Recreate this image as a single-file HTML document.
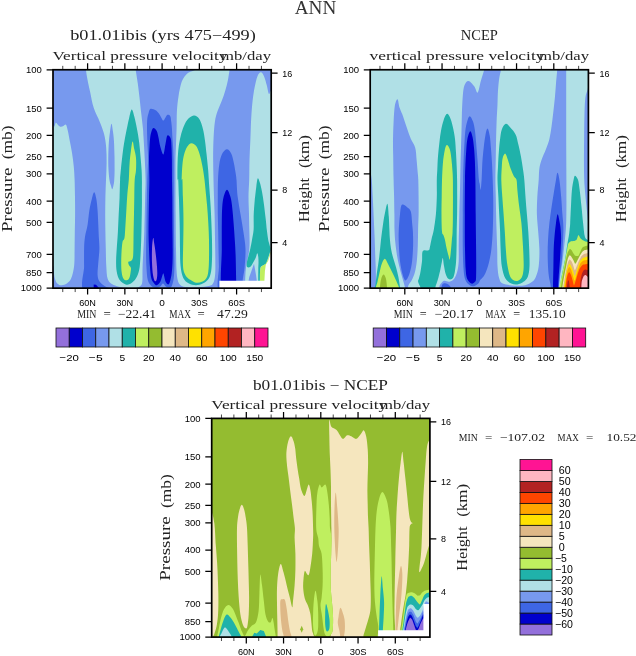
<!DOCTYPE html>
<html><head><meta charset="utf-8"><title>ANN</title>
<style>html,body{margin:0;padding:0;background:#fff;}svg{display:block;}text{white-space:pre;}</style>
</head><body>
<svg width="636" height="656" viewBox="0 0 636 656">
<rect width="636" height="656" fill="#fff"/>
<clipPath id="c1"><rect x="0" y="0" width="218.2" height="218.4"/></clipPath>
<g clip-path="url(#c1)" transform="translate(53 69.75)">
<rect x="-1" y="-1" width="221" height="221" fill="#7799EE"/>
<path d="M-3.0 62.0C-2.3 39.8 0.2 58.5 1.2 57.0C2.2 55.5 2.1 53.3 2.8 53.0C3.5 52.7 4.4 54.7 5.2 55.4C6.0 56.1 6.9 57.0 7.8 57.1C8.7 57.2 9.5 56.6 10.4 56.2C11.3 55.9 12.3 54.3 13.0 55.0C13.7 55.7 14.1 58.2 14.7 60.6C15.3 63.0 15.7 65.5 16.4 69.2C17.1 72.9 18.3 78.4 19.0 83.0C19.7 87.6 20.4 92.4 20.8 96.9C21.2 101.4 21.4 104.9 21.6 110.0C21.8 115.1 21.9 121.5 22.0 127.3C22.1 133.1 22.1 138.8 22.1 144.6C22.1 150.4 21.9 156.1 21.8 161.9C21.7 167.7 21.7 173.4 21.6 179.2C21.5 185.0 21.7 191.6 21.1 196.5C20.5 201.4 19.4 205.7 18.2 208.6C17.0 211.5 15.4 212.7 13.8 213.8C12.2 215.0 10.3 215.5 8.7 215.5C7.1 215.5 5.5 215.2 4.3 213.8C3.1 212.4 2.0 209.8 1.4 206.9C0.8 204.0 1.2 199.3 0.5 196.5C-0.2 193.7 -2.4 212.4 -3.0 190.0C-3.6 167.6 -3.7 84.2 -3.0 62.0Z" fill="#B0E0E6"/>
<path d="M32.5 -4.0C24.2 -3.3 32.5 -2.4 32.9 0.0C33.2 2.4 33.9 6.7 34.6 10.4C35.3 14.2 36.2 17.9 37.2 22.5C38.2 27.1 39.1 33.1 40.7 38.0C42.3 42.9 45.0 47.6 46.7 51.9C48.4 56.2 49.9 59.7 51.0 64.0C52.1 68.3 52.8 73.0 53.2 77.9C53.6 82.8 53.6 88.1 53.6 93.4C53.6 98.8 53.2 104.3 53.0 110.0C52.8 115.7 52.5 121.5 52.4 127.3C52.3 133.1 52.2 138.8 52.2 144.6C52.2 150.4 52.3 156.1 52.4 161.9C52.5 167.7 52.6 173.4 52.8 179.2C52.9 185.0 53.0 191.6 53.3 196.5C53.6 201.4 53.7 205.7 54.5 208.6C55.3 211.5 56.4 212.5 58.0 213.8C59.6 215.1 61.5 215.7 64.0 216.4C66.5 217.1 69.8 217.8 72.7 218.1C75.6 218.4 78.9 218.7 81.3 218.4C83.7 218.1 85.7 217.6 87.0 216.5C88.3 215.4 88.9 215.3 89.3 212.0C89.7 208.7 89.3 204.8 89.6 196.5C89.9 188.2 90.9 173.5 91.3 161.9C91.7 150.3 92.0 135.7 92.2 127.0C92.4 118.3 92.7 116.2 92.6 110.0C92.5 103.8 92.1 97.2 91.8 90.0C91.5 82.8 90.8 72.3 90.5 67.0C90.2 61.7 90.3 62.2 89.9 58.3C89.5 54.3 88.8 48.4 88.2 43.3C87.6 38.2 87.1 32.6 86.5 27.7C85.9 22.8 85.4 18.4 84.8 13.8C84.2 9.2 83.1 3.0 82.7 0.0C82.3 -3.0 90.8 -3.3 82.4 -4.0C74.0 -4.7 40.8 -4.7 32.5 -4.0Z" fill="#B0E0E6"/>
<path d="M147.0 -4.0C141.1 -3.3 143.2 -0.6 141.5 0.4C139.8 1.4 138.2 1.5 136.8 2.2C135.4 2.9 134.4 3.6 133.3 4.8C132.2 6.0 130.9 7.5 130.0 9.2C129.1 10.9 128.5 12.2 127.8 15.0C127.1 17.8 126.2 21.6 125.6 26.0C124.9 30.4 124.2 36.1 123.9 41.5C123.6 46.9 123.8 52.3 123.6 58.3C123.4 64.2 123.1 71.9 122.9 77.2C122.7 82.5 122.6 84.5 122.5 90.0C122.4 95.5 122.5 100.9 122.5 110.0C122.5 119.1 122.5 133.1 122.6 144.6C122.7 156.1 122.8 170.0 123.0 179.2C123.2 188.4 123.2 194.8 123.5 200.0C123.8 205.2 124.1 207.8 124.7 210.3C125.3 212.8 126.0 214.0 127.3 215.2C128.6 216.4 129.6 216.9 132.5 217.3C135.4 217.7 140.6 217.8 144.6 217.6C148.6 217.4 154.1 216.7 156.7 216.0C159.3 215.3 159.3 214.8 160.2 213.3C161.1 211.8 161.5 209.7 161.9 206.9C162.3 204.1 162.4 201.1 162.4 196.5C162.4 191.9 162.3 185.0 162.2 179.2C162.1 173.4 162.0 167.7 161.9 161.9C161.8 156.1 161.8 150.4 161.6 144.6C161.4 138.8 161.2 133.1 161.0 127.3C160.8 121.5 160.6 115.7 160.5 110.0C160.4 104.3 160.2 98.5 160.2 93.4C160.1 88.3 160.1 84.2 160.2 79.6C160.3 75.0 160.4 70.3 160.7 65.7C161.0 61.1 161.3 55.9 161.9 51.9C162.5 47.9 163.3 45.0 164.5 41.5C165.7 38.0 167.5 34.6 168.8 31.1C170.1 27.7 171.3 24.2 172.3 20.8C173.3 17.4 174.2 13.9 174.9 10.4C175.6 6.9 176.2 2.4 176.6 0.0C176.9 -2.4 181.9 -3.3 177.0 -4.0C172.1 -4.7 152.9 -4.7 147.0 -4.0Z" fill="#B0E0E6"/>
<path d="M207.8 2.6C206.7 2.6 205.3 4.5 204.3 6.9C203.3 9.4 202.5 13.3 201.7 17.3C200.9 21.3 200.2 25.9 199.6 31.1C199.0 36.3 198.6 42.0 198.2 48.4C197.8 54.8 197.7 62.3 197.4 69.2C197.1 76.1 196.7 83.2 196.5 90.0C196.3 96.8 196.4 103.8 196.2 110.0C196.0 116.2 195.5 121.5 195.5 127.3C195.5 133.1 195.9 139.6 196.0 145.0C196.1 150.4 196.2 154.3 196.3 160.0C196.4 165.7 196.9 172.6 196.3 178.9C195.8 185.2 193.7 192.2 193.0 197.7C192.3 203.2 192.3 207.9 192.1 212.0C191.9 216.1 187.0 220.3 192.0 222.0C197.0 223.7 217.0 255.5 222.0 222.0C227.0 188.5 222.7 54.5 222.0 21.0C221.3 -12.5 219.0 20.5 218.0 21.0C217.0 21.5 216.6 25.1 215.9 24.2C215.2 23.3 214.6 18.5 213.8 15.6C213.0 12.7 212.2 9.1 211.2 6.9C210.2 4.7 209.0 2.6 207.8 2.6Z" fill="#B0E0E6"/>
<path d="M58.5 54.0C58.0 54.0 57.4 59.0 57.0 62.0C56.6 65.0 56.2 67.9 55.9 72.0C55.6 76.1 55.4 81.8 55.3 86.5C55.2 91.2 55.3 95.9 55.5 100.0C55.7 104.1 56.2 108.3 56.6 111.0C57.0 113.7 57.6 114.6 58.0 116.0C58.4 117.4 58.8 119.5 59.2 119.5C59.6 119.5 60.1 117.4 60.4 116.0C60.7 114.6 61.0 113.7 61.2 111.0C61.4 108.3 61.6 104.1 61.6 100.0C61.6 95.9 61.6 91.2 61.5 86.5C61.4 81.8 61.2 76.1 61.0 72.0C60.8 67.9 60.4 65.0 60.0 62.0C59.6 59.0 59.0 54.0 58.5 54.0Z" fill="#7799EE"/>
<path d="M201.0 194.0L198.7 200.6L196.3 207.2L195.4 212.0L203.9 212.0L203.0 205.3L202.0 199.6Z" fill="#7799EE"/>
<path d="M78.7 39.8C77.8 40.1 77.0 44.9 76.1 48.4C75.2 51.9 74.4 56.3 73.5 60.6C72.6 64.9 71.7 69.5 70.9 74.4C70.1 79.3 69.5 85.1 68.9 90.0C68.3 94.9 67.8 100.5 67.5 103.8C67.2 107.1 67.2 106.1 67.1 110.0C66.9 113.9 66.8 121.5 66.6 127.3C66.4 133.1 66.0 138.8 65.7 144.6C65.4 150.4 65.2 156.1 64.9 161.9C64.6 167.7 64.0 174.3 63.7 179.2C63.4 184.1 63.1 187.6 63.1 191.3C63.1 195.1 63.1 198.5 63.7 201.7C64.3 204.9 65.1 208.1 66.6 210.3C68.1 212.5 70.8 214.1 72.7 214.7C74.6 215.3 76.2 214.8 77.9 213.8C79.6 212.8 81.6 210.9 83.0 208.6C84.4 206.3 85.5 203.4 86.2 200.0C86.9 196.6 87.1 192.8 87.4 187.9C87.7 183.0 88.0 176.4 88.2 170.6C88.4 164.8 88.5 159.1 88.6 153.3C88.7 147.5 88.9 141.8 88.9 136.0C89.0 130.2 88.9 123.0 88.9 118.7C88.9 114.4 89.0 113.1 88.9 110.0C88.9 106.9 88.8 104.2 88.6 100.3C88.4 96.4 87.9 91.1 87.5 86.5C87.1 81.9 86.8 77.3 86.2 72.7C85.6 68.1 84.7 63.1 83.9 58.8C83.1 54.5 82.2 49.9 81.3 46.7C80.4 43.5 79.6 39.5 78.7 39.8Z" fill="#20B2AA"/>
<path d="M140.8 45.8C138.8 45.9 136.0 48.0 134.2 50.2C132.4 52.4 131.1 55.6 129.9 58.8C128.7 62.0 127.8 65.5 127.0 69.2C126.2 73.0 125.6 77.0 125.2 81.3C124.8 85.6 124.6 90.4 124.5 95.2C124.4 100.0 124.4 107.5 124.5 110.0C124.6 112.5 125.0 107.1 125.2 110.0C125.4 112.9 125.7 121.5 125.9 127.3C126.1 133.1 126.2 138.8 126.4 144.6C126.6 150.4 126.7 156.1 126.8 161.9C126.9 167.7 126.9 174.0 127.0 179.2C127.1 184.4 127.0 189.0 127.3 193.0C127.6 197.0 128.0 200.5 128.7 203.4C129.4 206.3 130.4 208.6 131.6 210.3C132.8 212.0 134.1 212.9 136.0 213.8C137.9 214.7 140.6 215.5 142.9 215.5C145.2 215.5 147.7 214.8 149.8 213.8C151.9 212.8 153.9 211.5 155.3 209.5C156.7 207.5 157.5 205.0 158.1 201.7C158.7 198.4 158.8 194.8 159.0 189.6C159.2 184.4 159.1 176.6 159.0 170.6C158.9 164.6 158.6 159.1 158.4 153.3C158.2 147.5 157.9 141.8 157.6 136.0C157.3 130.2 156.7 123.0 156.4 118.7C156.1 114.4 156.0 113.3 155.8 110.0C155.6 106.7 155.4 102.8 155.0 98.6C154.6 94.4 154.1 89.4 153.6 84.8C153.1 80.2 152.6 75.2 152.0 70.9C151.4 66.6 150.8 62.4 149.8 58.8C148.9 55.2 147.8 51.5 146.3 49.3C144.8 47.1 142.8 45.6 140.8 45.8Z" fill="#20B2AA"/>
<path d="M204.8 108.5C204.2 109.2 203.8 113.1 203.3 117.0C202.8 120.9 202.0 127.3 201.6 132.0C201.2 136.7 200.9 140.3 200.7 145.0C200.5 149.7 200.9 155.9 200.6 160.0C200.3 164.1 199.6 166.2 199.1 169.4C198.6 172.6 197.9 176.1 197.3 178.9C196.7 181.7 196.0 184.1 195.4 186.4C194.8 188.8 194.0 191.2 193.8 193.0C193.6 194.8 193.4 196.7 194.1 197.3C194.8 197.9 196.6 197.7 197.7 196.8C198.8 195.9 199.7 193.7 200.6 192.1C201.5 190.5 202.3 188.8 202.9 187.4C203.5 186.0 203.9 183.6 204.3 183.6C204.7 183.6 205.1 185.8 205.3 187.4C205.5 189.0 205.5 191.0 205.5 193.0C205.5 195.0 205.3 196.4 205.3 199.6C205.3 202.8 205.1 209.9 205.3 212.0C205.5 214.1 206.4 213.6 206.7 212.0C207.0 210.4 206.8 204.9 207.0 202.5C207.2 200.1 207.3 198.7 207.6 197.7C207.9 196.7 208.1 196.9 209.0 196.3C209.9 195.7 211.9 195.2 212.8 194.0C213.8 192.8 214.1 190.9 214.7 189.2C215.3 187.5 216.1 185.2 216.6 183.6C217.1 182.0 217.5 180.9 217.5 179.5C217.5 178.1 216.9 176.7 216.5 175.0C216.1 173.3 215.5 171.9 215.1 169.4C214.7 166.9 214.2 163.2 213.8 160.0C213.4 156.8 213.3 154.2 212.8 150.0C212.3 145.8 211.6 139.7 211.0 135.0C210.4 130.3 209.7 125.7 209.0 122.0C208.3 118.3 207.6 115.2 206.9 113.0C206.2 110.8 205.4 107.8 204.8 108.5Z" fill="#20B2AA"/>
<path d="M79.6 71.8C79.0 72.1 78.4 77.7 77.9 81.3C77.4 84.9 76.9 88.6 76.6 93.4C76.2 98.2 76.2 104.9 75.8 110.0C75.4 115.1 74.8 119.2 74.4 123.8C74.0 128.4 73.8 133.1 73.5 137.7C73.2 142.3 73.0 146.9 72.7 151.5C72.4 156.1 72.1 162.4 71.8 165.4C71.5 168.4 71.4 168.3 71.0 169.5C70.6 170.7 69.9 170.1 69.5 172.3C69.1 174.5 68.7 179.2 68.5 182.7C68.3 186.1 68.2 189.6 68.2 193.0C68.2 196.4 68.3 200.7 68.8 203.4C69.2 206.2 70.0 208.3 70.9 209.5C71.8 210.7 73.5 210.6 74.4 210.3C75.4 210.0 76.1 208.8 76.6 207.5C77.1 206.2 77.4 204.1 77.6 202.5C77.8 200.9 78.2 199.3 77.9 198.2C77.7 197.0 76.5 196.6 76.1 195.6C75.7 194.6 75.0 192.9 75.3 192.2C75.6 191.5 77.1 192.0 77.9 191.3C78.7 190.6 79.5 189.9 79.9 187.9C80.3 185.9 80.3 183.5 80.4 179.2C80.5 174.9 80.5 167.7 80.6 161.9C80.7 156.1 80.9 150.4 81.0 144.6C81.1 138.8 81.2 133.1 81.3 127.3C81.4 121.5 81.4 114.5 81.7 110.0C82.0 105.5 82.8 103.9 83.0 100.3C83.2 96.7 83.3 91.7 83.0 88.2C82.7 84.8 81.9 82.3 81.3 79.6C80.7 76.9 80.2 71.5 79.6 71.8Z" fill="#BFEF5F"/>
<path d="M138.5 73.5C136.9 73.5 135.4 75.1 134.2 77.0C133.0 78.9 131.9 81.8 131.1 84.8C130.3 87.8 129.8 91.0 129.4 95.2C129.0 99.4 128.7 107.5 128.7 110.0C128.7 112.5 129.2 107.1 129.4 110.0C129.6 112.9 129.7 121.5 129.9 127.3C130.1 133.1 130.3 138.8 130.4 144.6C130.5 150.4 130.5 156.1 130.4 161.9C130.3 167.7 130.2 174.0 130.1 179.2C130.0 184.4 129.8 189.2 129.9 193.0C130.0 196.8 130.1 199.2 130.8 201.7C131.5 204.2 133.0 206.4 134.2 207.8C135.3 209.2 136.2 209.5 137.7 210.3C139.1 211.2 141.0 212.6 142.9 212.9C144.8 213.2 147.2 212.8 148.9 212.1C150.6 211.4 152.2 210.3 153.3 208.6C154.4 206.9 154.9 204.9 155.3 201.7C155.8 198.5 155.9 194.8 156.0 189.6C156.1 184.4 156.1 176.6 156.0 170.6C155.9 164.6 155.6 159.1 155.3 153.3C155.0 147.5 154.6 141.8 154.1 136.0C153.6 130.2 152.8 123.0 152.4 118.7C152.0 114.4 151.9 113.3 151.5 110.0C151.1 106.7 150.5 102.5 149.8 98.6C149.1 94.7 148.2 90.1 147.2 86.5C146.2 82.9 145.1 79.2 143.7 77.0C142.2 74.8 140.1 73.5 138.5 73.5Z" fill="#BFEF5F"/>
<path d="M209.0 196.3L212.8 194.0L215.2 189.2L216.6 184.5L218.0 182.0L218.0 212.0L207.0 212.0L207.0 202.5L207.6 197.7Z" fill="#BFEF5F"/>
<path d="M41.2 122.5C40.5 122.5 39.7 125.9 38.9 129.0C38.1 132.1 37.0 136.8 36.3 141.1C35.6 145.4 35.3 150.7 34.6 155.0C33.9 159.3 32.6 163.1 32.0 167.1C31.4 171.1 31.2 174.3 31.1 179.2C31.0 184.1 31.1 189.4 31.1 196.5C31.1 203.6 26.3 217.8 31.1 222.0C35.9 226.2 55.7 222.6 60.0 222.0C64.3 221.4 58.5 219.6 57.1 218.7C55.8 217.8 53.6 217.5 51.9 216.4C50.2 215.3 47.9 214.0 46.7 212.1C45.5 210.2 44.8 208.4 44.6 205.2C44.4 202.0 45.0 197.3 45.3 193.0C45.6 188.7 46.3 183.5 46.4 179.2C46.5 174.9 46.0 171.1 45.8 167.1C45.6 163.1 45.5 159.3 45.3 155.0C45.1 150.7 44.9 145.4 44.6 141.1C44.3 136.8 43.9 132.1 43.3 129.0C42.7 125.9 41.9 122.5 41.2 122.5Z" fill="#3E66E4"/>
<path d="M97.5 39.0C96.3 39.5 96.1 41.6 95.6 43.2C95.1 44.9 94.6 46.4 94.3 48.9C94.0 51.4 94.0 55.2 94.0 58.3C94.0 61.4 94.1 64.5 94.2 67.7C94.3 70.9 94.4 73.5 94.6 77.2C94.8 80.9 95.1 84.5 95.1 90.0C95.0 95.5 94.5 103.8 94.3 110.0C94.1 116.2 94.0 121.5 93.9 127.3C93.8 133.1 93.7 138.8 93.6 144.6C93.5 150.4 93.5 156.1 93.4 161.9C93.3 167.7 93.1 173.4 93.1 179.2C93.1 185.0 93.1 191.3 93.4 196.5C93.7 201.7 93.9 207.0 94.8 210.3C95.7 213.6 97.1 215.1 98.6 216.4C100.1 217.7 102.3 218.1 103.8 218.1C105.3 218.1 106.5 217.2 107.5 216.5C108.5 215.8 109.2 213.8 110.0 213.8C110.8 213.8 111.6 215.8 112.5 216.5C113.4 217.2 114.2 218.1 115.2 218.1C116.2 218.1 117.8 218.0 118.7 216.4C119.6 214.8 120.2 211.9 120.7 208.6C121.2 205.3 121.3 201.4 121.4 196.5C121.5 191.6 121.3 187.8 121.2 179.2C121.1 170.5 121.0 156.1 120.9 144.6C120.8 133.1 120.8 119.1 120.7 110.0C120.7 100.9 120.7 95.5 120.6 90.0C120.5 84.5 120.3 80.9 120.1 77.2C119.9 73.5 119.6 70.9 119.4 67.7C119.2 64.5 119.1 61.0 118.9 58.3C118.7 55.6 118.5 53.7 118.2 51.7C117.9 49.7 117.9 47.6 117.3 46.5C116.7 45.4 115.2 44.9 114.4 45.1C113.6 45.4 113.1 47.0 112.4 48.0C111.7 49.0 111.1 50.8 110.4 50.8C109.7 50.8 109.1 49.2 108.3 47.9C107.5 46.6 106.5 44.5 105.5 43.2C104.5 42.0 103.9 41.1 102.6 40.4C101.3 39.7 98.7 38.5 97.5 39.0Z" fill="#3E66E4"/>
<path d="M173.7 79.6C172.1 79.8 170.1 82.2 168.8 84.8C167.6 87.4 166.8 91.0 166.2 95.2C165.6 99.4 165.2 104.7 165.0 110.0C164.8 115.3 164.8 121.5 164.8 127.3C164.8 133.1 164.7 138.8 164.8 144.6C164.9 150.4 165.1 156.1 165.2 161.9C165.3 167.7 165.4 173.4 165.5 179.2C165.6 185.0 165.8 189.4 165.9 196.5C166.1 203.6 162.5 217.8 166.4 222.0C170.3 226.2 185.6 223.8 189.5 222.0C193.4 220.2 189.6 213.5 189.7 211.0C189.8 208.5 189.9 209.2 190.2 207.0C190.5 204.8 191.2 202.4 191.6 197.7C192.0 193.0 192.7 184.9 192.5 178.9C192.3 172.9 191.2 167.6 190.4 161.9C189.6 156.2 188.4 150.4 187.5 144.6C186.6 138.8 185.4 133.1 184.7 127.3C184.0 121.5 183.8 113.9 183.5 110.0C183.2 106.1 183.1 106.6 182.7 103.8C182.3 101.0 181.6 96.7 180.9 93.4C180.2 90.1 179.5 86.2 178.3 83.9C177.1 81.6 175.3 79.4 173.7 79.6Z" fill="#3E66E4"/>
<path d="M100.3 58.3C99.4 58.5 98.9 60.5 98.4 62.1C97.9 63.7 97.5 65.2 97.2 67.7C96.9 70.2 96.7 73.5 96.5 77.2C96.3 80.9 96.0 84.5 96.0 90.0C96.0 95.5 96.4 103.8 96.4 110.0C96.4 116.2 96.1 121.5 96.0 127.3C95.9 133.1 95.8 138.8 95.7 144.6C95.6 150.4 95.5 156.1 95.5 161.9C95.5 167.7 95.8 173.4 96.0 179.2C96.2 185.0 96.5 191.6 96.9 196.5C97.3 201.4 97.6 205.7 98.3 208.6C99.0 211.5 100.3 212.7 101.2 213.8C102.1 215.0 102.8 215.8 103.8 215.5C104.8 215.2 106.3 214.0 107.3 212.1C108.3 210.2 109.4 205.2 110.0 204.0C110.6 202.8 110.5 203.8 110.9 205.2C111.3 206.5 111.9 210.5 112.6 212.1C113.3 213.7 114.5 214.7 115.2 214.7C115.9 214.7 116.3 214.0 116.9 212.1C117.5 210.2 118.3 206.6 118.7 203.4C119.1 200.2 119.3 197.0 119.5 193.0C119.7 189.0 119.7 184.4 119.7 179.2C119.7 174.0 119.6 170.6 119.5 161.9C119.4 153.2 119.4 135.9 119.3 127.3C119.2 118.6 119.1 116.2 119.0 110.0C118.9 103.8 119.0 95.5 118.9 90.0C118.8 84.5 118.7 80.8 118.5 77.2C118.3 73.7 118.4 70.6 117.7 68.7C117.0 66.8 115.3 64.9 114.4 65.8C113.5 66.7 113.2 71.1 112.5 74.3C111.8 77.5 111.2 84.2 110.4 84.7C109.6 85.2 108.2 80.0 107.4 77.2C106.6 74.4 106.1 70.4 105.5 67.7C104.9 65.0 104.5 62.7 103.6 61.1C102.7 59.5 101.2 58.1 100.3 58.3Z" fill="#0000CD"/>
<path d="M174.0 120.0C172.8 120.0 171.4 124.3 170.6 127.3C169.8 130.2 169.5 133.4 169.2 137.7C168.9 142.0 168.9 146.4 168.8 153.3C168.7 160.2 168.8 167.8 168.8 179.2C168.8 190.6 166.4 214.9 168.8 222.0C171.2 229.1 181.0 223.8 183.4 222.0C185.8 220.2 183.3 216.9 183.2 211.2C183.1 205.5 182.9 194.7 182.7 187.9C182.5 181.1 182.2 176.4 181.8 170.6C181.5 164.8 181.0 158.8 180.6 153.3C180.2 147.8 179.7 142.0 179.2 137.7C178.7 133.4 178.4 130.2 177.5 127.3C176.6 124.3 175.2 120.0 174.0 120.0Z" fill="#0000CD"/>
<path d="M40.7 214.7L43.0 215.0L46.7 219.0L40.7 219.0Z" fill="#0000CD"/>
<path d="M100.3 168.0C100.0 168.0 99.6 171.1 99.4 173.0C99.2 174.9 99.1 175.9 99.0 179.2C98.9 182.5 98.8 188.7 99.0 193.0C99.2 197.3 99.5 202.2 100.0 205.2C100.5 208.2 101.1 210.3 101.7 211.2C102.3 212.0 103.1 211.6 103.5 210.3C103.9 209.0 104.3 206.6 104.3 203.4C104.3 200.2 103.9 195.3 103.5 191.3C103.1 187.3 102.5 182.2 102.1 179.2C101.7 176.1 101.4 174.9 101.1 173.0C100.8 171.1 100.6 168.0 100.3 168.0Z" fill="#9370DB"/>
<path d="M166.4 210.9L211.4 210.9L211.9 201.5L212.8 194.9L215.2 191.1L217.7 183.6L219.0 182.0L219.0 219.5L166.4 219.5Z" fill="#fff"/>
</g>
<path d="M62.76 69.75v-3.9M62.76 288.15v3.9M75.18 69.75v-3.9M75.18 288.15v3.9M100.01 69.75v-3.9M100.01 288.15v3.9M112.43 69.75v-3.9M112.43 288.15v3.9M137.27 69.75v-3.9M137.27 288.15v3.9M149.68 69.75v-3.9M149.68 288.15v3.9M174.52 69.75v-3.9M174.52 288.15v3.9M186.93 69.75v-3.9M186.93 288.15v3.9M211.77 69.75v-3.9M211.77 288.15v3.9M224.19 69.75v-3.9M224.19 288.15v3.9M249.02 69.75v-3.9M249.02 288.15v3.9M261.44 69.75v-3.9M261.44 288.15v3.9" stroke="#333" stroke-width="0.9" fill="none"/>
<path d="M87.60 69.75v-6.4M87.60 288.15v6.4M124.85 69.75v-6.4M124.85 288.15v6.4M162.10 69.75v-6.4M162.10 288.15v6.4M199.35 69.75v-6.4M199.35 288.15v6.4M236.60 69.75v-6.4M236.60 288.15v6.4M53 69.75h-6.4M53 108.21h-6.4M53 135.49h-6.4M53 156.66h-6.4M53 173.95h-6.4M53 201.24h-6.4M53 222.41h-6.4M53 254.32h-6.4M53 272.74h-6.4M53 288.15h-6.4M271.2 73.20h6.4M271.2 132.70h6.4M271.2 190.10h6.4M271.2 242.70h6.4" stroke="#000" stroke-width="1.25" fill="none"/>
<rect x="53" y="69.75" width="218.2" height="218.4" fill="none" stroke="#000" stroke-width="1.7"/>
<rect x="56.00" y="328" width="13.25" height="19" fill="#9370DB" stroke="#111" stroke-width="0.8"/>
<rect x="69.25" y="328" width="13.25" height="19" fill="#0000CD" stroke="#111" stroke-width="0.8"/>
<rect x="82.50" y="328" width="13.25" height="19" fill="#3E66E4" stroke="#111" stroke-width="0.8"/>
<rect x="95.75" y="328" width="13.25" height="19" fill="#7799EE" stroke="#111" stroke-width="0.8"/>
<rect x="109.00" y="328" width="13.25" height="19" fill="#B0E0E6" stroke="#111" stroke-width="0.8"/>
<rect x="122.25" y="328" width="13.25" height="19" fill="#20B2AA" stroke="#111" stroke-width="0.8"/>
<rect x="135.50" y="328" width="13.25" height="19" fill="#BFEF5F" stroke="#111" stroke-width="0.8"/>
<rect x="148.75" y="328" width="13.25" height="19" fill="#94BC30" stroke="#111" stroke-width="0.8"/>
<rect x="162.00" y="328" width="13.25" height="19" fill="#F5E6BE" stroke="#111" stroke-width="0.8"/>
<rect x="175.25" y="328" width="13.25" height="19" fill="#DEB887" stroke="#111" stroke-width="0.8"/>
<rect x="188.50" y="328" width="13.25" height="19" fill="#FFE100" stroke="#111" stroke-width="0.8"/>
<rect x="201.75" y="328" width="13.25" height="19" fill="#FFA500" stroke="#111" stroke-width="0.8"/>
<rect x="215.00" y="328" width="13.25" height="19" fill="#FF4500" stroke="#111" stroke-width="0.8"/>
<rect x="228.25" y="328" width="13.25" height="19" fill="#B22222" stroke="#111" stroke-width="0.8"/>
<rect x="241.50" y="328" width="13.25" height="19" fill="#FFB6C1" stroke="#111" stroke-width="0.8"/>
<rect x="254.75" y="328" width="13.25" height="19" fill="#FF1493" stroke="#111" stroke-width="0.8"/>
<clipPath id="c2"><rect x="0" y="0" width="218.2" height="218.4"/></clipPath>
<g clip-path="url(#c2)" transform="translate(370.2 69.75)">
<rect x="-1" y="-1" width="221" height="221" fill="#B0E0E6"/>
<path d="M-3.0 96.0C-2.3 76.7 0.1 101.2 1.0 106.0C1.9 110.8 2.0 118.5 2.4 125.0C2.8 131.5 3.1 138.3 3.4 145.0C3.7 151.7 4.0 158.3 4.3 165.0C4.6 171.7 4.8 179.2 5.0 185.0C5.2 190.8 5.5 195.5 5.6 200.0C5.7 204.5 5.8 208.3 5.8 212.0C5.8 215.7 7.3 220.3 5.8 222.0C4.3 223.7 -1.5 243.0 -3.0 222.0C-4.5 201.0 -3.7 115.3 -3.0 96.0Z" fill="#7799EE"/>
<path d="M27.3 29.4C26.5 29.1 25.2 32.5 24.6 36.3C24.0 40.0 23.7 46.4 23.4 51.9C23.1 57.4 22.9 63.4 22.8 69.2C22.7 75.0 22.9 79.7 23.0 86.5C23.1 93.3 23.2 103.2 23.4 110.0C23.5 116.8 23.8 121.5 23.9 127.3C24.0 133.1 24.1 139.2 24.2 144.6C24.3 150.0 24.1 155.3 24.3 160.0C24.5 164.7 24.7 168.4 25.1 172.6C25.5 176.8 26.1 181.3 26.7 185.2C27.3 189.1 28.2 192.8 29.0 196.2C29.8 199.6 30.6 202.7 31.4 205.6C32.2 208.5 33.1 211.3 33.7 213.5C34.4 215.7 34.7 218.1 35.3 219.0C35.9 219.9 36.7 219.7 37.2 219.0C37.7 218.3 37.8 216.4 38.5 215.0C39.2 213.6 40.6 212.4 41.6 210.3C42.6 208.2 43.9 205.7 44.7 202.5C45.5 199.3 46.1 195.9 46.6 191.4C47.1 186.9 47.4 180.9 47.6 175.7C47.8 170.5 47.8 165.2 47.9 160.0C48.0 154.8 48.3 150.0 48.4 144.6C48.5 139.2 48.4 133.1 48.4 127.3C48.4 121.5 48.2 113.9 48.1 110.0C48.0 106.1 47.9 107.1 47.6 103.8C47.3 100.5 46.8 94.3 46.4 90.0C46.0 85.7 46.0 81.4 45.0 77.9C44.0 74.4 42.2 72.7 40.7 69.2C39.2 65.7 37.6 60.9 36.3 57.1C35.0 53.4 34.0 49.9 32.9 46.7C31.8 43.5 30.3 41.0 29.4 38.1C28.5 35.2 28.1 29.7 27.3 29.4Z" fill="#7799EE"/>
<path d="M114.3 -4.0C111.5 -3.3 114.6 -2.5 114.0 0.0C113.4 2.5 111.8 7.2 110.7 11.0C109.6 14.8 108.6 21.9 107.5 22.8C106.4 23.7 105.5 18.4 104.0 16.5C102.5 14.6 99.9 11.3 98.3 11.2C96.7 11.0 95.2 13.1 94.3 15.6C93.3 18.1 93.0 21.4 92.6 26.0C92.2 30.6 91.9 37.5 91.7 43.3C91.5 49.1 91.5 54.8 91.3 60.6C91.1 66.4 91.0 72.1 90.8 77.9C90.6 83.7 90.4 89.9 90.3 95.2C90.2 100.5 90.1 104.7 90.0 110.0C89.9 115.3 89.8 121.5 89.6 127.3C89.4 133.1 89.2 139.2 89.1 144.6C89.0 150.0 88.9 154.8 88.8 160.0C88.7 165.2 88.5 170.5 88.5 175.7C88.5 180.9 88.7 187.2 88.5 191.4C88.3 195.6 87.9 198.0 87.2 200.9C86.5 203.8 85.4 206.9 84.1 208.7C82.8 210.5 80.9 211.5 79.3 211.9C77.7 212.3 75.8 211.1 74.6 211.1C73.4 211.1 73.1 211.2 72.3 211.9C71.5 212.6 70.4 214.1 69.9 215.0C69.4 215.9 69.2 216.2 69.1 217.4C68.9 218.6 49.0 221.2 69.0 222.0C89.0 222.8 169.0 222.9 189.0 222.0C209.0 221.1 188.8 219.2 189.0 216.7C189.2 214.2 189.3 211.9 189.9 207.2C190.5 202.5 191.8 196.2 192.7 188.3C193.6 180.4 195.0 168.1 195.6 160.0C196.2 151.9 196.1 148.3 196.2 140.0C196.3 131.7 196.2 123.3 196.2 110.0C196.2 96.7 196.0 78.3 196.0 60.0C196.0 41.7 196.0 10.7 196.0 0.0C196.0 -10.7 197.5 -3.3 196.0 -4.0C194.5 -4.7 188.5 -4.7 187.0 -4.0C185.5 -3.3 187.2 -3.0 187.0 0.0C186.8 3.0 186.2 9.2 185.8 13.8C185.4 18.4 185.2 22.8 184.7 27.7C184.2 32.6 183.6 38.4 183.0 43.3C182.4 48.2 181.9 52.8 181.3 57.1C180.7 61.4 180.1 65.5 179.2 69.2C178.3 73.0 177.0 76.1 175.7 79.6C174.4 83.1 172.5 86.8 171.4 90.0C170.3 93.2 169.7 95.3 169.2 98.6C168.7 101.9 168.8 105.2 168.5 110.0C168.2 114.8 167.4 121.5 167.1 127.3C166.8 133.1 166.5 138.8 166.7 144.6C166.8 150.4 167.6 156.1 168.0 161.9C168.4 167.7 169.1 173.4 169.2 179.2C169.3 185.0 169.1 191.9 168.5 196.5C167.9 201.1 166.8 204.3 165.7 206.9C164.6 209.5 163.7 210.7 161.9 212.1C160.1 213.5 157.9 214.9 155.0 215.5C152.1 216.1 148.3 216.2 144.6 215.9C140.8 215.6 135.1 215.0 132.5 213.8C129.9 212.6 129.9 211.5 129.0 208.6C128.1 205.7 127.6 201.4 127.3 196.5C127.0 191.6 127.2 185.0 127.0 179.2C126.8 173.4 126.6 167.7 126.4 161.9C126.2 156.1 126.0 150.4 125.9 144.6C125.8 138.8 125.7 133.1 125.6 127.3C125.5 121.5 125.2 116.8 125.2 110.0C125.2 103.2 125.5 93.3 125.6 86.5C125.7 79.7 125.8 75.0 125.9 69.2C126.0 63.4 126.2 57.7 126.4 51.9C126.6 46.1 127.1 39.8 127.3 34.6C127.5 29.4 127.5 25.1 127.8 20.8C128.1 16.5 128.5 12.2 129.0 8.7C129.5 5.2 130.5 2.1 130.8 0.0C131.1 -2.1 133.6 -3.3 130.8 -4.0C128.1 -4.7 117.1 -4.7 114.3 -4.0Z" fill="#7799EE"/>
<path d="M222.0 14.0C221.4 -8.9 219.3 15.4 218.5 16.5C217.7 17.6 217.8 18.9 217.2 20.8C216.6 22.7 215.7 23.9 215.2 27.7C214.7 31.4 214.5 36.4 214.3 43.3C214.1 50.2 214.0 59.8 213.9 69.2C213.8 78.7 213.7 92.4 213.8 100.0C213.9 107.6 214.1 110.5 214.3 115.0C214.6 119.5 215.0 123.3 215.3 127.0C215.6 130.7 216.0 133.8 216.3 137.0C216.6 140.2 216.9 143.5 217.2 146.0C217.5 148.5 217.4 150.7 218.2 152.0C219.0 153.3 221.4 177.0 222.0 154.0C222.6 131.0 222.6 36.9 222.0 14.0Z" fill="#7799EE"/>
<path d="M17.3 134.2C16.7 133.2 15.9 137.9 15.2 141.1C14.5 144.3 13.6 149.3 13.0 153.3C12.4 157.3 11.9 161.3 11.4 165.0C10.9 168.7 10.6 171.8 10.2 175.7C9.8 179.6 9.4 184.1 8.9 188.3C8.4 192.5 7.6 196.7 7.0 200.9C6.4 205.1 5.8 210.8 5.4 213.5C5.0 216.2 4.8 216.0 4.6 217.4C4.4 218.8 0.2 221.2 4.5 222.0C8.8 222.8 26.3 222.8 30.5 222.0C34.7 221.2 30.2 219.9 29.8 217.4C29.4 214.9 28.9 210.5 28.2 207.2C27.5 203.9 26.8 200.8 25.9 197.7C25.0 194.5 23.9 191.4 23.0 188.3C22.1 185.2 21.4 182.1 20.8 178.9C20.2 175.8 20.0 172.6 19.7 169.4C19.4 166.2 19.4 163.7 19.2 160.0C19.0 156.3 18.9 151.3 18.6 147.0C18.3 142.7 17.9 135.2 17.3 134.2Z" fill="#20B2AA"/>
<path d="M77.0 44.1C75.8 44.2 74.5 47.5 73.5 50.2C72.5 53.0 71.6 56.9 70.9 60.6C70.2 64.3 69.7 68.4 69.2 72.7C68.7 77.0 68.2 81.9 67.8 86.5C67.4 91.1 67.3 96.4 67.1 100.3C66.9 104.2 66.7 105.5 66.6 110.0C66.5 114.5 66.8 121.5 66.6 127.3C66.4 133.1 66.2 139.2 65.7 144.6C65.2 150.0 64.3 155.9 63.6 160.0C62.9 164.1 61.9 166.5 61.3 169.4C60.6 172.3 60.2 175.4 59.7 177.3C59.2 179.2 59.7 179.9 58.5 180.6C57.3 181.2 53.7 179.4 52.6 181.2C51.5 183.0 52.2 187.8 51.8 191.4C51.4 195.0 50.7 199.6 50.2 202.5C49.7 205.4 49.1 207.1 48.7 208.7C48.3 210.3 47.6 210.4 47.9 211.9C48.1 213.4 49.7 215.7 50.2 217.4C50.7 219.1 48.5 221.2 51.0 222.0C53.5 222.8 62.6 222.8 65.0 222.0C67.4 221.2 64.8 219.3 65.2 217.4C65.6 215.5 66.7 213.1 67.5 210.3C68.3 207.6 69.2 203.8 69.9 200.9C70.6 198.0 71.0 195.1 71.5 193.0C72.0 190.9 72.2 187.8 72.6 188.3C73.0 188.8 73.3 193.6 73.8 196.2C74.3 198.8 74.7 201.9 75.4 204.0C76.1 206.1 76.9 207.8 77.8 208.7C78.7 209.6 80.0 209.8 80.9 209.5C81.8 209.2 82.7 208.6 83.3 207.2C83.9 205.8 84.4 203.5 84.8 200.9C85.2 198.3 85.6 195.6 85.9 191.4C86.2 187.2 86.3 180.9 86.4 175.7C86.5 170.5 86.4 165.2 86.5 160.0C86.6 154.8 86.8 150.0 86.9 144.6C87.0 139.2 87.0 133.1 87.0 127.3C87.0 121.5 87.0 115.1 86.9 110.0C86.8 104.9 86.7 101.4 86.5 96.9C86.3 92.4 86.1 87.6 85.8 83.0C85.5 78.4 85.3 73.2 84.8 69.2C84.3 65.2 83.7 62.1 83.0 58.8C82.3 55.5 81.4 51.8 80.4 49.3C79.4 46.8 78.2 44.0 77.0 44.1Z" fill="#20B2AA"/>
<path d="M135.6 54.0C134.1 54.3 132.5 57.2 131.6 59.7C130.7 62.2 130.4 65.6 129.9 69.2C129.4 72.8 129.0 76.7 128.7 81.3C128.3 85.9 128.0 92.1 127.8 96.9C127.6 101.7 127.2 104.9 127.3 110.0C127.4 115.1 127.9 121.5 128.2 127.3C128.5 133.1 128.7 138.8 129.0 144.6C129.3 150.4 129.7 156.1 129.9 161.9C130.1 167.7 130.1 173.4 130.4 179.2C130.7 185.0 130.8 191.6 131.6 196.5C132.4 201.4 133.5 205.7 135.1 208.6C136.7 211.5 139.1 212.8 141.1 213.8C143.1 214.8 145.2 215.0 147.2 214.7C149.2 214.4 151.6 213.4 153.3 212.1C155.0 210.8 156.6 209.5 157.6 206.9C158.6 204.3 159.1 201.1 159.3 196.5C159.5 191.9 159.2 185.0 159.0 179.2C158.8 173.4 158.5 167.7 158.1 161.9C157.7 156.1 157.2 150.4 156.7 144.6C156.2 138.8 155.7 133.1 155.3 127.3C154.9 121.5 154.5 114.5 154.1 110.0C153.7 105.5 153.5 104.2 152.9 100.3C152.3 96.4 151.5 90.8 150.7 86.5C149.9 82.2 149.0 78.0 148.1 74.4C147.2 70.8 146.8 67.6 145.5 64.9C144.2 62.2 142.0 59.8 140.3 58.0C138.7 56.2 137.1 53.7 135.6 54.0Z" fill="#20B2AA"/>
<path d="M204.8 105.9C204.1 105.9 203.9 107.6 203.4 110.0C202.9 112.4 202.1 116.1 201.7 120.4C201.3 124.7 201.1 130.5 200.8 136.0C200.5 141.5 200.2 149.3 200.0 153.3C199.8 157.3 199.7 157.7 199.4 160.0C199.2 162.3 198.9 164.7 198.5 167.0C198.1 169.3 197.8 170.4 197.2 174.0C196.6 177.6 196.1 182.8 195.1 188.3C194.1 193.8 192.2 202.5 191.3 207.2C190.5 211.9 190.2 214.2 190.0 216.7C189.8 219.2 184.5 221.1 189.8 222.0C195.1 222.9 216.6 230.6 222.0 222.0C227.4 213.4 222.6 179.2 222.0 170.6C221.4 162.0 219.7 171.2 218.5 170.6C217.3 170.0 215.6 170.0 214.7 167.1C213.8 164.2 213.5 158.5 212.9 153.3C212.3 148.1 211.8 141.5 211.2 136.0C210.6 130.5 210.1 124.7 209.5 120.4C208.9 116.1 208.6 112.4 207.8 110.0C207.0 107.6 205.5 105.9 204.8 105.9Z" fill="#20B2AA"/>
<path d="M14.6 189.1C13.7 189.2 12.6 191.6 11.7 193.8C10.8 196.0 10.1 199.5 9.4 202.5C8.7 205.5 7.9 209.4 7.3 211.9C6.7 214.4 6.0 215.7 5.7 217.4C5.4 219.1 1.6 221.2 5.5 222.0C9.4 222.8 25.1 222.8 29.0 222.0C32.9 221.2 29.0 218.7 28.7 217.4C28.4 216.1 28.1 215.9 27.4 214.2C26.7 212.5 25.5 209.7 24.3 207.2C23.1 204.7 21.6 201.7 20.4 199.3C19.2 196.9 18.2 194.7 17.2 193.0C16.2 191.3 15.5 189.0 14.6 189.1Z" fill="#BFEF5F"/>
<path d="M76.5 75.3C75.6 75.6 75.0 78.3 74.4 81.3C73.8 84.3 73.1 88.6 72.7 93.4C72.3 98.2 72.0 104.3 71.8 110.0C71.6 115.7 71.6 121.5 71.5 127.3C71.4 133.1 71.2 138.8 71.3 144.6C71.3 150.4 71.5 158.5 71.8 161.9C72.1 165.3 72.5 163.8 73.0 165.0C73.5 166.2 74.0 167.1 74.6 169.4C75.2 171.7 75.8 176.0 76.5 178.9C77.2 181.8 78.0 184.9 78.5 186.7C79.0 188.5 79.0 189.9 79.3 189.9C79.6 189.9 79.8 188.5 80.1 186.7C80.4 184.9 80.6 181.8 80.9 178.9C81.2 176.0 81.5 172.2 81.7 169.4C82.0 166.6 82.2 166.0 82.4 161.9C82.6 157.8 82.7 153.2 82.7 144.6C82.8 135.9 82.8 117.4 82.7 110.0C82.6 102.6 82.4 103.6 82.2 100.3C82.0 97.0 81.7 93.5 81.3 90.0C80.9 86.5 80.4 82.0 79.6 79.6C78.8 77.1 77.4 75.0 76.5 75.3Z" fill="#BFEF5F"/>
<path d="M135.1 83.9C134.2 83.6 133.1 86.0 132.5 88.2C131.9 90.4 131.8 93.3 131.6 96.9C131.4 100.5 131.0 104.9 131.1 110.0C131.2 115.1 131.7 121.5 132.1 127.3C132.5 133.1 133.0 138.8 133.4 144.6C133.8 150.4 134.2 156.1 134.6 161.9C135.0 167.7 135.2 174.0 135.6 179.2C136.0 184.4 136.2 188.7 136.8 193.0C137.4 197.3 138.4 202.3 139.4 205.2C140.4 208.1 141.6 209.3 142.9 210.3C144.2 211.3 145.8 211.6 147.2 211.2C148.6 210.8 150.5 209.7 151.5 207.8C152.5 205.9 153.0 203.3 153.3 200.0C153.6 196.7 153.5 192.8 153.3 187.9C153.2 183.0 152.8 176.4 152.4 170.6C152.1 164.8 151.8 159.1 151.2 153.3C150.6 147.5 149.6 141.5 148.9 136.0C148.2 130.5 147.6 124.7 147.2 120.4C146.8 116.1 146.9 112.3 146.3 110.0C145.7 107.7 144.7 108.3 143.7 106.4C142.7 104.5 141.3 101.3 140.3 98.6C139.3 95.9 138.6 92.5 137.7 90.0C136.8 87.5 136.0 84.2 135.1 83.9Z" fill="#BFEF5F"/>
<path d="M189.4 216.7C189.6 215.0 191.4 207.4 191.8 205.3C192.2 203.2 193.3 197.8 193.7 195.9C194.1 194.0 195.3 188.1 195.6 186.4C195.9 184.7 196.8 180.1 197.0 178.9C197.2 177.7 197.6 174.9 197.9 174.2C198.2 173.5 199.7 172.1 200.3 171.8C200.9 171.5 203.0 171.5 203.6 171.3C204.2 171.1 205.9 170.5 206.4 169.9C206.9 169.3 207.9 165.3 208.3 165.2C208.7 165.1 209.8 168.0 210.2 168.5C210.6 169.0 212.0 170.1 212.6 170.4C213.2 170.7 215.3 171.6 215.9 171.8C216.5 172.0 217.9 172.2 218.5 172.3C219.1 172.4 221.7 167.3 222.0 172.3C222.3 177.3 225.3 217.0 222.0 222.0C218.7 227.0 192.7 222.5 189.4 222.0C186.1 221.5 189.2 218.4 189.4 216.7Z" fill="#BFEF5F"/>
<path d="M190.9 216.7C191.1 215.0 192.3 207.4 192.7 205.3C193.1 203.2 194.3 197.6 194.6 195.9C194.9 194.2 195.8 189.6 196.1 188.3C196.4 187.0 197.2 183.6 197.5 182.7C197.8 181.8 199.0 179.6 199.4 179.4C199.8 179.2 200.8 179.9 201.2 180.3C201.6 180.7 202.7 183.0 203.1 183.6C203.5 184.2 204.5 185.8 205.0 186.0C205.5 186.2 207.8 186.4 208.3 186.0C208.8 185.6 209.8 182.5 210.2 181.7C210.6 180.9 211.6 178.4 212.1 177.9C212.6 177.4 214.3 176.7 214.9 176.5C215.5 176.3 217.8 175.7 218.5 175.6C219.2 175.5 221.7 171.0 222.0 175.6C222.3 180.2 225.1 217.4 222.0 222.0C218.9 226.6 194.0 222.5 190.9 222.0C187.8 221.5 190.7 218.4 190.9 216.7Z" fill="#94BC30"/>
<path d="M192.3 216.7C192.5 215.0 193.8 207.4 194.2 205.3C194.6 203.2 195.8 197.5 196.1 195.9C196.4 194.3 197.2 190.3 197.5 189.3C197.8 188.3 199.0 185.7 199.4 185.5C199.8 185.3 200.8 186.4 201.2 186.9C201.6 187.4 202.7 189.5 203.1 190.2C203.5 190.9 204.6 193.9 205.0 194.0C205.4 194.1 206.5 192.0 206.9 191.2C207.3 190.4 208.8 187.2 209.3 186.4C209.8 185.6 211.1 183.3 211.6 182.7C212.1 182.1 213.8 180.6 214.5 180.3C215.2 180.0 217.8 179.5 218.5 179.4C219.2 179.3 221.7 175.1 222.0 179.4C222.3 183.7 225.0 217.7 222.0 222.0C219.0 226.3 195.3 222.5 192.3 222.0C189.3 221.5 192.1 218.4 192.3 216.7Z" fill="#F5E6BE"/>
<path d="M193.2 216.7C193.4 215.1 194.6 208.2 194.9 206.3C195.2 204.4 196.2 199.2 196.5 197.8C196.8 196.4 197.6 192.9 197.9 192.1C198.2 191.3 199.1 189.8 199.4 189.7C199.7 189.6 200.8 191.0 201.2 191.6C201.6 192.2 202.8 195.0 203.1 195.9C203.4 196.8 204.4 200.5 204.7 200.6C205.0 200.7 206.0 197.7 206.4 196.8C206.8 196.0 207.9 193.0 208.3 192.1C208.7 191.2 210.2 188.2 210.7 187.4C211.2 186.7 212.7 185.0 213.5 184.6C214.3 184.2 217.7 183.2 218.5 183.1C219.3 182.9 221.7 179.2 222.0 183.1C222.3 187.0 224.9 218.1 222.0 222.0C219.1 225.9 196.1 222.5 193.2 222.0C190.3 221.5 193.0 218.3 193.2 216.7Z" fill="#DEB887"/>
<path d="M194.0 216.7C194.1 215.2 195.1 208.9 195.4 207.2C195.7 205.5 196.5 200.9 196.8 199.7C197.1 198.5 197.8 196.0 198.1 195.4C198.4 194.8 199.1 193.9 199.4 194.0C199.7 194.1 200.7 195.7 201.0 196.4C201.3 197.1 202.3 199.6 202.7 200.6C203.1 201.6 204.2 206.2 204.6 206.3C205.0 206.4 206.0 202.6 206.3 201.6C206.7 200.6 207.7 197.0 208.1 195.9C208.5 194.8 209.7 191.5 210.2 190.7C210.7 189.9 212.3 188.3 213.1 187.9C213.9 187.5 217.6 186.6 218.5 186.4C219.4 186.2 221.7 182.8 222.0 186.4C222.3 190.0 224.8 218.4 222.0 222.0C219.2 225.6 196.8 222.5 194.0 222.0C191.2 221.5 193.9 218.2 194.0 216.7Z" fill="#FFE100"/>
<path d="M194.6 216.7C194.7 215.3 195.7 209.7 195.9 208.2C196.1 206.7 196.8 202.9 197.0 202.0C197.2 201.1 197.9 199.2 198.1 198.7C198.3 198.2 199.1 197.2 199.4 197.3C199.7 197.4 200.7 199.3 201.0 200.1C201.3 200.9 202.2 204.2 202.5 205.3C202.8 206.4 204.1 210.9 204.4 211.0C204.8 211.1 205.7 207.4 206.0 206.3C206.3 205.2 207.5 200.9 207.9 199.7C208.3 198.5 209.5 194.8 210.0 194.0C210.5 193.2 211.8 191.6 212.6 191.2C213.4 190.8 217.6 189.8 218.5 189.7C219.4 189.5 221.7 186.5 222.0 189.7C222.3 192.9 224.7 218.8 222.0 222.0C219.3 225.2 197.3 222.5 194.6 222.0C191.9 221.5 194.5 218.1 194.6 216.7Z" fill="#FFA500"/>
<path d="M195.6 216.7C195.7 215.5 196.1 211.1 196.3 210.0C196.5 208.9 197.1 206.0 197.3 205.3C197.5 204.6 198.2 203.3 198.4 203.0C198.6 202.7 199.2 202.3 199.4 202.5C199.6 202.7 200.5 204.6 200.8 205.3C201.1 206.1 201.9 209.0 202.2 210.0C202.5 211.0 203.5 215.6 203.8 215.7C204.1 215.8 205.1 212.1 205.5 211.0C205.9 209.9 207.0 205.6 207.4 204.4C207.8 203.2 209.0 199.6 209.5 198.7C210.0 197.8 211.6 195.8 212.1 195.4C212.6 195.0 214.3 194.6 214.9 194.5C215.5 194.4 217.8 194.1 218.5 194.0C219.2 193.9 221.7 191.2 222.0 194.0C222.3 196.8 224.6 219.2 222.0 222.0C219.4 224.8 198.2 222.5 195.6 222.0C193.0 221.5 195.5 217.9 195.6 216.7Z" fill="#FF4500"/>
<path d="M196.8 222.0C196.4 221.1 196.7 218.2 196.8 216.7C196.9 215.2 197.1 213.9 197.3 212.9C197.5 211.9 197.7 210.7 197.9 210.5C198.1 210.3 198.4 210.5 198.7 211.5C198.9 212.5 199.3 214.9 199.4 216.7C199.5 218.4 199.9 221.1 199.5 222.0C199.1 222.9 197.2 222.9 196.8 222.0Z" fill="#B22222"/>
<path d="M209.7 216.7C209.8 215.5 210.2 211.2 210.4 210.0C210.6 208.8 211.3 205.3 211.6 204.4C211.9 203.5 213.1 201.1 213.5 200.6C213.9 200.1 214.9 199.7 215.4 199.7C215.9 199.7 217.8 200.5 218.5 200.6C219.2 200.7 221.7 198.5 222.0 200.6C222.3 202.7 223.2 219.9 222.0 222.0C220.8 224.1 210.9 222.5 209.7 222.0C208.5 221.5 209.6 217.9 209.7 216.7Z" fill="#B22222"/>
<path d="M211.2 216.7C211.2 215.6 211.4 212.4 211.6 211.5C211.8 210.6 212.8 207.8 213.1 207.2C213.4 206.6 214.5 205.4 214.9 205.3C215.3 205.2 216.4 206.0 216.8 206.3C217.2 206.6 218.0 208.0 218.5 208.2C219.0 208.4 221.7 206.8 222.0 208.2C222.3 209.6 223.1 220.6 222.0 222.0C220.9 223.4 212.3 222.5 211.2 222.0C210.1 221.5 211.2 217.8 211.2 216.7Z" fill="#FFB6C1"/>
<path d="M13.3 204.8C12.5 204.9 11.5 207.4 10.9 209.5C10.3 211.6 10.0 215.3 9.8 217.4C9.6 219.5 8.5 221.2 9.7 222.0C10.9 222.8 15.7 222.8 16.9 222.0C18.1 221.2 17.0 219.6 16.8 217.4C16.6 215.2 16.3 210.8 15.7 208.7C15.1 206.6 14.1 204.7 13.3 204.8Z" fill="#94BC30"/>
<path d="M31.7 135.1C30.5 136.2 30.3 140.1 29.8 144.6C29.3 149.1 28.7 156.7 28.5 161.9C28.3 167.1 28.5 170.8 28.7 175.7C28.9 180.6 29.2 186.7 29.8 191.4C30.4 196.1 31.4 200.8 32.2 204.0C33.0 207.2 34.0 209.2 34.5 210.3C35.0 211.4 34.8 210.9 35.3 210.6C35.8 210.3 36.5 210.0 37.2 208.7C37.9 207.3 38.9 205.4 39.7 202.5C40.5 199.6 41.4 195.9 41.9 191.4C42.4 186.9 42.8 180.6 42.9 175.7C43.0 170.8 42.9 165.6 42.7 161.9C42.5 158.2 42.2 156.6 41.9 153.3C41.6 150.0 41.5 144.6 40.7 142.0C39.9 139.4 38.7 138.8 37.2 137.7C35.7 136.5 32.9 133.9 31.7 135.1Z" fill="#3E66E4"/>
<path d="M99.5 46.4C98.5 46.4 97.6 49.5 96.9 51.9C96.2 54.3 95.6 57.1 95.2 60.6C94.8 64.1 94.6 67.8 94.3 72.7C94.0 77.6 93.6 83.8 93.4 90.0C93.2 96.2 93.0 100.9 92.9 110.0C92.8 119.1 92.6 133.1 92.6 144.6C92.5 156.1 92.5 170.0 92.6 179.2C92.7 188.4 93.0 194.8 93.4 200.0C93.8 205.2 94.2 207.7 95.2 210.3C96.2 212.9 98.1 214.5 99.5 215.5C100.9 216.5 102.4 216.7 103.8 216.4C105.2 216.1 107.1 214.8 108.1 213.8C109.1 212.8 109.4 211.2 110.0 210.3C110.6 209.4 110.8 209.8 111.7 208.6C112.6 207.4 114.0 206.0 115.2 203.4C116.4 200.8 117.7 197.0 118.7 193.0C119.7 189.0 120.6 184.4 121.2 179.2C121.8 174.0 122.2 167.7 122.5 161.9C122.8 156.1 122.9 150.4 123.0 144.6C123.1 138.8 123.1 133.1 123.0 127.3C122.9 121.5 122.7 115.7 122.5 110.0C122.3 104.3 122.1 98.8 121.8 93.4C121.5 88.1 121.1 82.5 120.7 77.9C120.3 73.3 120.1 68.9 119.5 65.7C118.9 62.5 118.0 58.8 117.3 58.8C116.6 58.8 115.8 62.5 115.2 65.7C114.6 68.9 114.0 73.3 113.5 77.9C113.0 82.5 112.4 88.1 112.1 93.4C111.8 98.8 111.7 105.6 111.4 110.0C111.1 114.4 110.8 119.3 110.5 120.0C110.2 120.7 109.8 115.7 109.5 114.0C109.2 112.3 109.1 114.0 108.7 110.0C108.3 106.0 107.8 96.2 107.3 90.0C106.8 83.8 106.3 77.6 105.9 72.7C105.5 67.8 105.2 64.1 104.7 60.6C104.2 57.1 103.8 54.3 102.9 51.9C102.0 49.5 100.5 46.4 99.5 46.4Z" fill="#3E66E4"/>
<path d="M187.3 103.0C186.7 103.0 186.4 106.5 185.8 110.0C185.2 113.5 184.2 119.2 183.5 123.8C182.8 128.4 182.0 132.8 181.3 137.7C180.6 142.6 179.8 147.8 179.2 153.3C178.6 158.8 178.1 164.8 177.8 170.6C177.5 176.4 177.4 182.4 177.5 187.9C177.6 193.4 177.9 199.1 178.3 203.4C178.7 207.7 179.5 210.7 180.1 213.8C180.7 216.9 180.6 220.6 182.0 222.0C183.4 223.4 187.4 222.9 188.5 222.0C189.6 221.1 188.4 219.2 188.6 216.7C188.8 214.2 188.9 211.9 189.4 207.2C189.9 202.5 191.2 196.2 191.8 188.3C192.4 180.4 193.1 167.3 193.2 160.0C193.3 152.7 192.6 150.0 192.2 144.6C191.8 139.2 191.5 133.1 191.0 127.3C190.5 121.5 189.8 114.0 189.2 110.0C188.6 106.0 187.9 103.0 187.3 103.0Z" fill="#3E66E4"/>
<path d="M72.3 214.5C72.8 213.6 74.0 213.4 75.0 213.5C76.0 213.6 77.6 214.1 78.5 215.0C79.4 215.9 81.6 218.3 80.5 219.0C79.4 219.7 73.4 219.8 72.0 219.0C70.6 218.2 71.8 215.4 72.3 214.5Z" fill="#3E66E4"/>
<path d="M100.0 61.4C99.1 61.7 97.9 65.9 97.2 69.2C96.5 72.5 96.3 77.0 96.0 81.3C95.7 85.6 95.4 90.4 95.2 95.2C95.0 100.0 94.9 101.8 94.8 110.0C94.7 118.2 94.6 133.1 94.6 144.6C94.6 156.1 94.6 170.0 94.8 179.2C95.0 188.4 95.1 194.9 95.5 200.0C95.9 205.1 96.2 207.2 97.2 209.5C98.2 211.8 100.0 213.4 101.2 213.8C102.5 214.2 103.9 213.2 104.7 212.1C105.5 210.9 105.7 212.4 105.9 206.9C106.1 201.4 106.0 189.6 105.9 179.2C105.8 168.8 105.6 156.1 105.5 144.6C105.4 133.1 105.3 118.8 105.2 110.0C105.1 101.2 104.9 97.0 104.7 91.7C104.5 86.4 104.2 81.9 103.8 77.9C103.4 73.9 103.0 70.2 102.4 67.5C101.8 64.8 100.9 61.1 100.0 61.4Z" fill="#0000CD"/>
<path d="M187.5 144.6C186.9 144.6 186.3 149.8 185.8 153.3C185.3 156.8 184.8 161.1 184.4 165.4C184.0 169.7 183.7 174.0 183.5 179.2C183.3 184.4 183.3 190.2 183.2 196.5C183.1 202.8 182.9 212.4 182.8 216.7C182.7 220.9 181.9 221.1 182.8 222.0C183.7 222.9 187.1 222.9 188.0 222.0C188.9 221.1 187.9 219.2 188.0 216.7C188.1 214.2 188.2 211.9 188.5 207.2C188.8 202.5 189.5 194.5 189.9 188.3C190.3 182.1 190.8 174.7 190.9 170.0C191.0 165.3 190.7 162.8 190.5 160.0C190.3 157.2 190.1 155.9 189.6 153.3C189.1 150.7 188.1 144.6 187.5 144.6Z" fill="#0000CD"/>
</g>
<path d="M379.96 69.75v-3.9M379.96 288.15v3.9M392.38 69.75v-3.9M392.38 288.15v3.9M417.21 69.75v-3.9M417.21 288.15v3.9M429.63 69.75v-3.9M429.63 288.15v3.9M454.47 69.75v-3.9M454.47 288.15v3.9M466.88 69.75v-3.9M466.88 288.15v3.9M491.72 69.75v-3.9M491.72 288.15v3.9M504.13 69.75v-3.9M504.13 288.15v3.9M528.97 69.75v-3.9M528.97 288.15v3.9M541.39 69.75v-3.9M541.39 288.15v3.9M566.22 69.75v-3.9M566.22 288.15v3.9M578.64 69.75v-3.9M578.64 288.15v3.9" stroke="#333" stroke-width="0.9" fill="none"/>
<path d="M404.80 69.75v-6.4M404.80 288.15v6.4M442.05 69.75v-6.4M442.05 288.15v6.4M479.30 69.75v-6.4M479.30 288.15v6.4M516.55 69.75v-6.4M516.55 288.15v6.4M553.80 69.75v-6.4M553.80 288.15v6.4M370.2 69.75h-6.4M370.2 108.21h-6.4M370.2 135.49h-6.4M370.2 156.66h-6.4M370.2 173.95h-6.4M370.2 201.24h-6.4M370.2 222.41h-6.4M370.2 254.32h-6.4M370.2 272.74h-6.4M370.2 288.15h-6.4M588.4 73.20h6.4M588.4 132.70h6.4M588.4 190.10h6.4M588.4 242.70h6.4" stroke="#000" stroke-width="1.25" fill="none"/>
<rect x="370.2" y="69.75" width="218.2" height="218.4" fill="none" stroke="#000" stroke-width="1.7"/>
<rect x="373.20" y="328" width="13.28" height="19" fill="#9370DB" stroke="#111" stroke-width="0.8"/>
<rect x="386.48" y="328" width="13.28" height="19" fill="#0000CD" stroke="#111" stroke-width="0.8"/>
<rect x="399.76" y="328" width="13.28" height="19" fill="#3E66E4" stroke="#111" stroke-width="0.8"/>
<rect x="413.04" y="328" width="13.28" height="19" fill="#7799EE" stroke="#111" stroke-width="0.8"/>
<rect x="426.32" y="328" width="13.28" height="19" fill="#B0E0E6" stroke="#111" stroke-width="0.8"/>
<rect x="439.61" y="328" width="13.28" height="19" fill="#20B2AA" stroke="#111" stroke-width="0.8"/>
<rect x="452.89" y="328" width="13.28" height="19" fill="#BFEF5F" stroke="#111" stroke-width="0.8"/>
<rect x="466.17" y="328" width="13.28" height="19" fill="#94BC30" stroke="#111" stroke-width="0.8"/>
<rect x="479.45" y="328" width="13.28" height="19" fill="#F5E6BE" stroke="#111" stroke-width="0.8"/>
<rect x="492.73" y="328" width="13.28" height="19" fill="#DEB887" stroke="#111" stroke-width="0.8"/>
<rect x="506.01" y="328" width="13.28" height="19" fill="#FFE100" stroke="#111" stroke-width="0.8"/>
<rect x="519.29" y="328" width="13.28" height="19" fill="#FFA500" stroke="#111" stroke-width="0.8"/>
<rect x="532.58" y="328" width="13.28" height="19" fill="#FF4500" stroke="#111" stroke-width="0.8"/>
<rect x="545.86" y="328" width="13.28" height="19" fill="#B22222" stroke="#111" stroke-width="0.8"/>
<rect x="559.14" y="328" width="13.28" height="19" fill="#FFB6C1" stroke="#111" stroke-width="0.8"/>
<rect x="572.42" y="328" width="13.28" height="19" fill="#FF1493" stroke="#111" stroke-width="0.8"/>
<clipPath id="c3"><rect x="0" y="0" width="218.2" height="218.7"/></clipPath>
<g clip-path="url(#c3)" transform="translate(211.7 418.4)">
<rect x="-1" y="-1" width="221" height="221" fill="#94BC30"/>
<path d="M-3.0 90.0C-2.4 68.9 -0.2 93.3 0.7 95.6C1.6 97.9 2.1 101.7 2.5 104.0C2.9 106.3 2.8 105.8 3.1 109.6C3.4 113.4 3.7 121.1 4.1 126.9C4.5 132.7 5.1 138.4 5.4 144.2C5.8 150.0 6.0 155.5 6.2 161.5C6.4 167.5 6.7 174.4 6.7 180.0C6.7 185.6 6.7 190.7 6.4 195.0C6.2 199.3 5.7 202.9 5.2 206.0C4.7 209.1 3.9 211.5 3.3 213.4C2.7 215.3 2.7 216.3 1.6 217.7C0.6 219.1 -2.2 243.3 -3.0 222.0C-3.8 200.7 -3.6 111.1 -3.0 90.0Z" fill="#F5E6BE"/>
<path d="M30.1 86.4C29.3 86.4 28.5 89.0 27.8 91.3C27.1 93.6 26.5 97.0 26.1 100.0C25.7 103.0 25.4 105.1 25.3 109.6C25.2 114.1 25.2 121.1 25.3 126.9C25.4 132.7 25.5 138.4 25.6 144.2C25.7 150.0 25.9 155.7 26.1 161.5C26.3 167.3 26.6 173.0 27.0 178.8C27.4 184.6 28.0 191.5 28.7 196.1C29.4 200.7 30.4 204.2 31.3 206.5C32.2 208.8 33.2 209.6 33.9 209.9C34.6 210.2 35.1 210.5 35.6 208.2C36.1 205.9 36.7 201.0 37.0 196.1C37.3 191.2 37.4 184.6 37.4 178.8C37.4 173.0 37.1 167.3 37.0 161.5C36.9 155.7 36.7 150.0 36.5 144.2C36.3 138.4 36.2 132.7 36.0 126.9C35.8 121.1 35.6 114.1 35.3 109.6C35.0 105.1 34.7 103.0 34.2 100.0C33.7 97.0 33.2 93.6 32.5 91.3C31.8 89.0 30.9 86.4 30.1 86.4Z" fill="#F5E6BE"/>
<path d="M79.2 17.8C78.2 17.9 77.0 21.1 76.3 23.8C75.5 26.5 74.9 30.7 74.7 34.2C74.5 37.7 74.8 40.6 75.1 44.6C75.4 48.6 76.2 53.8 76.8 58.4C77.4 63.0 77.9 67.7 78.5 72.3C79.1 76.9 79.7 81.5 80.3 86.1C80.9 90.7 81.5 96.1 82.0 100.0C82.5 103.9 83.0 106.3 83.2 109.6C83.4 112.9 82.8 115.3 82.9 119.6C83.0 123.9 83.6 130.1 83.7 135.3C83.8 140.5 83.8 145.8 83.7 151.0C83.6 156.2 83.3 161.6 82.9 166.8C82.5 172.1 81.7 178.8 81.3 182.5C80.9 186.2 81.0 189.3 80.5 188.8C80.0 188.3 79.1 183.0 78.2 179.3C77.3 175.6 76.0 171.0 75.0 166.8C74.0 162.6 72.9 157.8 71.9 154.2C70.9 150.6 69.9 145.2 69.0 145.5C68.1 145.8 67.0 151.7 66.4 155.8C65.8 159.9 65.5 164.9 65.3 169.9C65.1 174.9 65.2 180.3 65.3 185.6C65.3 190.8 65.5 196.0 65.6 201.4C65.7 206.8 65.9 214.3 65.9 217.9C66.0 221.5 59.9 222.2 65.9 223.0C71.9 223.8 96.0 224.1 102.0 223.0C108.0 221.9 102.0 218.1 101.7 216.3C101.5 214.5 100.8 214.4 100.5 212.4C100.2 210.4 100.0 207.4 99.7 204.5C99.4 201.6 99.2 198.0 98.6 195.1C98.0 192.2 97.1 189.7 96.2 187.2C95.3 184.7 93.9 183.0 93.1 180.1C92.3 177.2 91.7 173.2 91.5 169.9C91.3 166.6 91.5 163.4 91.8 160.5C92.1 157.6 92.5 153.4 93.1 152.6C93.6 151.8 94.4 154.8 95.1 155.4C95.8 156.1 96.4 157.5 97.0 156.5C97.6 155.5 98.0 153.0 98.6 149.5C99.2 146.0 100.0 140.3 100.5 135.3C101.0 130.3 101.2 123.9 101.4 119.6C101.6 115.3 101.5 113.4 101.4 109.6C101.3 105.8 101.2 101.0 101.0 96.5C100.8 92.0 100.4 86.7 100.0 82.7C99.6 78.7 99.3 75.0 98.8 72.3C98.3 69.5 97.7 66.5 97.1 66.2C96.5 65.9 96.0 68.6 95.3 70.5C94.6 72.4 93.7 77.5 92.7 77.5C91.7 77.5 90.2 73.4 89.3 70.5C88.4 67.6 88.1 63.7 87.5 60.2C86.9 56.8 86.3 53.3 85.8 49.8C85.3 46.3 84.8 42.6 84.4 39.4C84.0 36.2 84.0 33.4 83.6 30.7C83.2 28.0 82.7 25.1 82.0 23.0C81.3 20.9 80.2 17.7 79.2 17.8Z" fill="#F5E6BE"/>
<path d="M117.6 1.3C117.2 2.7 117.5 11.4 117.6 16.9C117.7 22.4 117.8 28.4 118.0 34.2C118.2 40.0 118.6 45.7 118.8 51.5C119.0 57.3 119.2 63.0 119.3 68.8C119.4 74.6 119.2 79.3 119.3 86.1C119.4 92.9 119.6 104.0 119.7 109.6C119.8 115.2 119.8 115.3 119.8 119.6C119.8 123.9 119.6 130.1 119.5 135.3C119.4 140.5 119.1 145.8 119.0 151.0C118.9 156.2 118.9 162.1 119.0 166.8C119.1 171.5 119.5 175.4 119.8 179.3C120.1 183.2 120.6 186.7 120.9 190.4C121.2 194.1 121.4 197.7 121.4 201.4C121.4 205.1 121.3 209.8 120.9 212.4C120.5 215.0 119.3 215.2 119.0 217.0C118.7 218.8 113.6 222.0 119.0 223.0C124.4 224.0 146.1 223.9 151.5 223.0C156.9 222.1 151.4 219.6 151.7 217.7C152.0 215.8 152.7 214.1 153.4 211.7C154.1 209.2 155.1 206.2 156.0 203.0C156.9 199.8 158.1 196.6 158.6 192.6C159.1 188.6 159.1 184.0 159.1 178.8C159.1 173.6 158.8 167.3 158.6 161.5C158.4 155.7 158.3 150.0 158.1 144.2C157.9 138.4 157.6 132.7 157.4 126.9C157.2 121.1 157.1 114.1 156.9 109.6C156.7 105.1 156.6 103.9 156.4 100.0C156.2 96.1 156.1 90.7 156.0 86.1C155.9 81.5 155.7 76.9 155.7 72.3C155.7 67.7 155.9 63.0 156.0 58.4C156.1 53.8 156.4 49.2 156.4 44.6C156.4 40.0 156.3 35.0 156.0 30.7C155.7 26.4 155.2 21.7 154.6 18.6C154.0 15.5 153.0 12.8 152.2 12.1C151.4 11.4 151.2 12.9 150.0 14.3C148.8 15.7 146.5 19.8 144.8 20.4C143.1 21.0 141.2 18.4 139.6 17.8C138.0 17.2 136.8 16.5 135.3 16.9C133.9 17.3 132.6 21.3 130.9 20.4C129.2 19.5 126.8 13.7 124.9 11.7C123.0 9.7 120.9 10.0 119.7 8.3C118.5 6.6 117.9 -0.1 117.6 1.3Z" fill="#F5E6BE"/>
<path d="M190.6 33.3C190.1 33.3 189.5 40.1 188.9 44.6C188.3 49.1 187.7 54.7 187.2 60.2C186.7 65.7 186.2 71.5 185.8 77.5C185.4 83.5 184.9 91.2 184.7 96.5C184.5 101.8 184.6 101.6 184.4 109.6C184.2 117.5 183.8 132.7 183.6 144.2C183.3 155.7 183.0 170.2 182.9 178.8C182.8 187.5 182.7 190.6 182.8 196.1C182.9 201.6 183.4 207.2 183.5 211.7C183.6 216.2 182.8 221.1 183.6 223.0C184.4 224.9 187.6 224.9 188.4 223.0C189.2 221.1 188.4 214.4 188.5 211.7C188.6 208.9 188.8 209.1 189.2 206.5C189.5 203.9 190.1 199.6 190.6 196.1C191.1 192.6 191.7 189.2 192.3 185.7C192.9 182.2 193.6 179.3 194.1 175.3C194.6 171.3 195.1 166.7 195.5 161.5C195.9 156.3 196.4 150.0 196.7 144.2C197.0 138.4 197.3 132.7 197.5 126.9C197.7 121.1 197.6 113.2 197.9 109.6C198.2 106.0 199.0 106.3 199.5 105.5C200.0 104.7 201.0 105.1 201.0 104.8C201.0 104.5 199.9 104.8 199.3 103.4C198.7 102.0 198.1 100.8 197.5 96.5C196.9 92.2 196.1 83.5 195.5 77.5C194.9 71.5 194.3 65.7 193.7 60.2C193.1 54.7 192.5 49.1 192.0 44.6C191.5 40.1 191.1 33.3 190.6 33.3Z" fill="#F5E6BE"/>
<path d="M222.0 18.0C221.2 1.7 218.5 20.3 217.4 22.1C216.3 23.9 215.8 25.5 215.2 29.0C214.6 32.5 214.4 37.7 214.0 42.9C213.6 48.1 213.2 54.4 212.8 60.2C212.4 66.0 212.0 71.7 211.7 77.5C211.4 83.3 211.2 89.5 211.0 94.8C210.8 100.1 210.7 104.8 210.5 109.6C210.3 114.4 210.2 119.1 210.0 123.4C209.8 127.7 209.7 131.6 209.3 135.6C209.0 139.6 208.2 144.7 207.9 147.7C207.6 150.7 207.3 153.1 207.6 153.7C207.9 154.2 208.7 152.6 209.5 151.0C210.3 149.4 211.6 146.7 212.5 144.0C213.4 141.3 214.1 138.2 215.0 135.0C215.9 131.8 217.0 127.5 218.2 125.0C219.4 122.5 221.4 137.8 222.0 120.0C222.6 102.2 222.8 34.3 222.0 18.0Z" fill="#F5E6BE"/>
<path d="M124.0 74.0C123.5 74.0 123.0 83.7 122.8 89.6C122.6 95.5 122.5 103.7 122.6 109.6C122.7 115.5 123.0 120.4 123.2 125.0C123.4 129.6 123.7 133.9 124.0 137.0C124.3 140.1 124.5 143.5 124.8 143.5C125.1 143.5 125.5 140.1 125.8 137.0C126.1 133.9 126.4 129.6 126.6 125.0C126.8 120.4 127.1 115.5 126.9 109.6C126.7 103.7 126.1 95.5 125.6 89.6C125.1 83.7 124.5 74.0 124.0 74.0Z" fill="#DEB887"/>
<path d="M71.0 180.8C70.2 181.0 68.9 180.1 68.6 183.0C68.3 185.9 68.7 193.6 69.0 198.2C69.3 202.8 69.9 207.5 70.4 210.8C70.9 214.1 71.7 215.9 72.0 217.9C72.3 219.9 70.7 222.2 72.0 223.0C73.3 223.8 78.7 223.8 80.0 223.0C81.3 222.2 80.1 219.7 79.8 217.9C79.5 216.1 78.7 214.9 78.2 212.4C77.7 209.9 77.1 206.6 76.6 202.9C76.1 199.2 75.6 193.9 75.0 190.4C74.4 186.9 73.9 183.3 73.2 181.7C72.5 180.1 71.8 180.6 71.0 180.8Z" fill="#DEB887"/>
<path d="M128.5 189.6C127.8 190.4 127.3 195.7 126.9 198.2C126.5 200.7 126.0 202.1 126.1 204.5C126.2 206.9 127.3 210.2 127.7 212.4C128.1 214.6 128.4 216.1 128.5 217.9C128.6 219.7 127.8 222.2 128.5 223.0C129.2 223.8 131.8 223.8 132.4 223.0C133.1 222.2 132.3 219.9 132.4 217.9C132.5 215.9 133.1 213.6 133.2 210.8C133.3 208.1 133.3 204.3 132.9 201.4C132.5 198.5 131.5 195.5 130.8 193.5C130.1 191.5 129.2 188.8 128.5 189.6Z" fill="#DEB887"/>
<path d="M189.2 147.7C188.6 148.3 187.9 153.4 187.2 158.0C186.5 162.6 185.5 169.5 185.0 175.3C184.5 181.1 184.4 186.5 184.2 192.6C184.0 198.7 183.9 206.6 183.8 211.7C183.7 216.8 183.5 221.1 183.8 223.0C184.1 224.9 185.5 224.9 185.8 223.0C186.1 221.1 185.7 214.4 185.8 211.7C185.9 208.9 186.0 209.1 186.3 206.5C186.6 203.9 187.0 199.8 187.4 196.1C187.8 192.3 188.5 188.3 189.0 184.0C189.5 179.7 189.9 175.1 190.2 170.2C190.5 165.3 190.8 158.3 190.6 154.6C190.4 150.8 189.8 147.1 189.2 147.7Z" fill="#DEB887"/>
<path d="M90.0 207.3L91.5 210.8L90.0 214.3L88.5 210.8Z" fill="#94BC30"/>
<path d="M108.0 66.2C108.7 65.4 109.1 69.0 110.0 69.0C110.9 69.0 112.7 65.7 113.6 66.2C114.5 66.8 114.8 69.0 115.4 72.3C116.0 75.6 116.7 81.5 117.1 86.1C117.5 90.7 117.8 96.1 118.0 100.0C118.2 103.9 118.0 106.3 118.3 109.6C118.6 112.9 119.6 115.3 119.8 119.6C120.0 123.9 119.6 130.1 119.5 135.3C119.4 140.5 119.1 145.8 119.0 151.0C118.9 156.2 118.9 162.1 119.0 166.8C119.1 171.5 119.5 175.4 119.8 179.3C120.1 183.2 120.6 186.7 120.9 190.4C121.2 194.1 121.4 197.7 121.4 201.4C121.4 205.1 121.3 209.9 120.9 212.4C120.5 214.9 119.8 215.4 119.0 216.3C118.2 217.2 116.9 218.0 116.0 218.0C115.1 218.0 114.2 217.5 113.5 216.3C112.8 215.1 112.5 213.8 112.0 210.8C111.5 207.8 110.9 202.1 110.4 198.2C109.9 194.3 108.9 190.3 108.8 187.2C108.7 184.0 109.6 182.7 109.9 179.3C110.2 175.9 110.7 171.5 110.9 166.8C111.1 162.1 111.1 156.2 110.9 151.0C110.7 145.8 110.5 139.2 109.9 135.3C109.3 131.4 107.9 130.1 107.3 127.5C106.7 124.9 107.0 122.6 106.5 119.6C106.0 116.6 104.8 115.2 104.5 109.6C104.2 104.0 104.6 92.0 104.8 86.1C105.0 80.2 105.2 77.3 105.7 74.0C106.2 70.7 107.3 67.0 108.0 66.2Z" fill="#BFEF5F"/>
<path d="M103.8 172.3C103.2 172.3 102.5 178.7 102.1 182.5C101.7 186.3 101.5 190.9 101.4 195.1C101.3 199.3 101.2 204.2 101.4 207.6C101.6 211.0 102.1 213.9 102.5 215.5C102.9 217.1 103.5 217.3 104.0 217.0C104.5 216.7 105.3 215.5 105.7 213.9C106.1 212.3 106.4 210.7 106.5 207.6C106.6 204.5 106.6 199.3 106.5 195.1C106.4 190.9 106.2 186.3 105.7 182.5C105.2 178.7 104.4 172.3 103.8 172.3Z" fill="#BFEF5F"/>
<path d="M170.7 73.6C169.5 73.6 168.2 77.7 167.3 80.9C166.4 84.1 165.6 88.2 165.0 93.0C164.4 97.8 164.1 103.9 163.8 109.6C163.5 115.2 163.5 121.1 163.3 126.9C163.2 132.7 163.0 138.4 162.9 144.2C162.8 150.0 162.6 155.7 162.6 161.5C162.6 167.3 162.6 173.0 162.9 178.8C163.2 184.6 164.1 191.5 164.7 196.1C165.3 200.7 166.1 203.9 166.4 206.5C166.7 209.1 166.6 208.9 166.7 211.7C166.8 214.4 164.2 221.1 166.7 223.0C169.2 224.9 179.1 224.9 181.6 223.0C184.1 221.1 181.7 216.2 181.6 211.7C181.5 207.2 181.3 201.6 181.1 196.1C180.9 190.6 180.8 184.6 180.6 178.8C180.4 173.0 180.3 167.3 180.2 161.5C180.1 155.7 180.0 150.0 179.9 144.2C179.8 138.4 179.6 132.7 179.4 126.9C179.2 121.1 179.3 115.2 178.9 109.6C178.5 103.9 177.8 97.8 177.1 93.0C176.4 88.2 175.8 84.1 174.7 80.9C173.6 77.7 171.9 73.6 170.7 73.6Z" fill="#BFEF5F"/>
<path d="M16.6 186.6C15.2 186.7 13.5 188.7 12.3 190.9C11.1 193.1 10.2 196.4 9.3 199.6C8.4 202.8 7.8 206.8 7.1 210.0C6.4 213.2 5.7 216.4 5.4 218.6C5.1 220.8 -4.4 222.3 5.4 223.0C15.2 223.7 54.4 223.7 64.2 223.0C74.0 222.3 64.4 220.2 64.2 218.6C64.0 217.0 63.7 215.8 63.3 213.4C62.9 211.0 62.3 206.2 61.9 203.9C61.5 201.6 61.2 199.6 60.7 199.6C60.2 199.6 59.7 203.3 59.0 203.9C58.3 204.5 57.3 204.3 56.4 203.0C55.5 201.7 54.5 199.5 53.8 196.1C53.1 192.7 52.7 187.2 52.1 182.3C51.5 177.4 50.9 171.0 50.3 166.7C49.7 162.4 49.0 154.9 48.6 156.3C48.2 157.7 48.0 169.2 47.7 175.3C47.4 181.4 47.5 187.8 46.9 192.6C46.3 197.4 45.4 201.4 44.3 203.9C43.1 206.4 41.3 206.1 40.0 207.4C38.7 208.7 37.7 210.0 36.5 211.7C35.3 213.4 34.0 217.4 33.0 217.7C32.0 218.0 31.3 215.3 30.4 213.4C29.5 211.5 28.8 209.1 27.8 206.5C26.8 203.9 25.5 200.5 24.4 197.8C23.2 195.1 22.2 192.0 20.9 190.1C19.6 188.2 18.0 186.5 16.6 186.6Z" fill="#BFEF5F"/>
<path d="M14.9 196.1C13.6 196.7 12.4 200.4 11.4 203.0C10.4 205.6 9.5 209.1 8.8 211.7C8.1 214.3 7.4 216.7 7.1 218.6C6.8 220.5 3.3 222.3 7.1 223.0C10.8 223.7 25.9 223.7 29.6 223.0C33.4 222.3 30.0 220.2 29.6 218.6C29.2 217.0 28.0 215.4 27.0 213.4C26.0 211.4 24.8 208.8 23.5 206.5C22.2 204.2 20.6 201.3 19.2 199.6C17.8 197.9 16.2 195.5 14.9 196.1Z" fill="#20B2AA"/>
<path d="M40.0 219.0L42.6 214.3L45.1 215.1L48.6 211.7L52.1 212.5L54.7 219.0Z" fill="#20B2AA"/>
<path d="M114.3 185.6C113.8 186.1 113.6 191.7 113.5 195.1C113.4 198.5 113.3 203.2 113.5 206.1C113.7 209.0 114.1 211.3 114.6 212.4C115.1 213.5 116.2 212.9 116.7 212.4C117.2 211.9 117.6 211.0 117.8 209.2C118.0 207.4 118.1 204.3 117.8 201.4C117.5 198.5 116.8 194.5 116.2 191.9C115.6 189.3 114.8 185.1 114.3 185.6Z" fill="#20B2AA"/>
<path d="M169.9 158.0C169.5 159.4 168.8 172.5 168.5 178.8C168.2 185.2 168.0 190.6 167.8 196.1C167.6 201.6 167.4 207.2 167.3 211.7C167.2 216.2 166.7 221.1 167.3 223.0C168.0 224.9 170.5 224.9 171.2 223.0C171.8 221.1 171.1 215.6 171.2 211.7C171.3 207.8 171.7 204.2 171.9 199.6C172.1 195.0 172.5 188.9 172.4 184.0C172.3 179.1 171.6 174.5 171.2 170.2C170.8 165.9 170.3 156.6 169.9 158.0Z" fill="#20B2AA"/>
<path d="M13.1 209.1C11.9 209.5 10.5 213.5 9.7 215.1C8.8 216.7 8.3 217.3 8.0 218.6C7.7 219.9 6.0 222.3 8.0 223.0C10.0 223.7 18.1 223.7 20.1 223.0C22.1 222.3 20.7 220.3 20.1 218.6C19.5 216.8 17.8 214.1 16.6 212.5C15.4 210.9 14.2 208.7 13.1 209.1Z" fill="#B0E0E6"/>
<path d="M189.7 211.7C189.8 209.8 190.7 205.0 190.9 203.1C191.2 201.2 191.9 195.0 192.2 193.0C192.5 191.0 193.2 184.8 193.5 183.0C193.8 181.2 194.7 176.3 195.3 175.4C195.9 174.5 198.3 174.0 199.1 173.9C199.9 173.8 202.2 174.5 202.9 174.8C203.6 175.1 205.4 177.1 206.0 177.3C206.6 177.5 208.2 177.0 208.6 176.7C209.0 176.4 210.0 174.6 210.4 174.2C210.8 173.8 212.4 172.6 213.0 172.3C213.6 172.0 216.1 171.5 216.7 171.4C217.2 171.3 218.0 171.0 218.5 171.0C219.0 171.0 221.7 165.9 222.0 171.0C222.3 176.1 225.2 216.9 222.0 222.0C218.8 227.1 192.9 223.0 189.7 222.0C186.5 221.0 189.6 213.6 189.7 211.7Z" fill="#BFEF5F"/>
<path d="M190.7 211.7C190.8 209.8 191.7 205.0 191.9 203.1C192.2 201.2 192.9 194.9 193.2 193.0C193.5 191.1 194.2 185.6 194.5 184.2C194.8 182.8 196.1 179.3 196.6 178.6C197.1 177.9 199.1 177.2 199.7 177.3C200.3 177.4 202.3 179.1 202.9 179.8C203.5 180.5 205.5 183.6 206.0 184.2C206.5 184.8 207.9 186.3 208.3 186.1C208.7 185.8 210.0 182.6 210.4 181.7C210.8 180.8 211.9 178.0 212.3 177.3C212.7 176.6 214.2 175.1 214.8 174.8C215.4 174.5 217.8 174.0 218.5 173.9C219.2 173.8 221.7 169.1 222.0 173.9C222.3 178.7 225.1 217.2 222.0 222.0C218.9 226.8 193.8 223.0 190.7 222.0C187.6 221.0 190.6 213.6 190.7 211.7Z" fill="#20B2AA"/>
<path d="M191.6 211.7C191.7 209.8 192.6 204.8 192.8 203.1C193.1 201.4 193.8 196.3 194.1 194.9C194.4 193.5 195.3 189.5 195.7 188.6C196.1 187.7 197.9 186.3 198.5 186.1C199.1 185.9 200.7 186.4 201.3 186.8C201.9 187.2 203.6 190.0 204.1 190.5C204.6 191.0 206.2 192.0 206.7 191.8C207.2 191.6 208.8 189.2 209.2 188.6C209.6 188.0 210.7 186.2 211.1 185.5C211.5 184.8 212.6 182.3 213.0 181.7C213.4 181.1 214.9 179.5 215.5 179.2C216.1 178.9 217.8 178.7 218.5 178.6C219.2 178.5 221.7 174.3 222.0 178.6C222.3 182.9 225.0 217.7 222.0 222.0C219.0 226.3 194.6 223.0 191.6 222.0C188.6 221.0 191.5 213.6 191.6 211.7Z" fill="#B0E0E6"/>
<path d="M192.2 211.7C192.3 209.8 193.2 204.7 193.5 203.1C193.8 201.5 194.7 196.8 195.0 195.6C195.3 194.4 196.2 191.8 196.6 191.2C197.0 190.6 198.6 189.8 199.1 189.9C199.6 190.0 201.1 191.7 201.6 192.4C202.1 193.2 203.7 196.7 204.1 197.4C204.5 198.1 205.6 199.4 206.0 199.3C206.4 199.2 208.1 197.5 208.6 196.8C209.1 196.1 210.4 193.4 210.8 192.4C211.2 191.4 212.0 187.7 212.3 186.8C212.6 185.9 213.8 183.3 214.2 183.0C214.6 182.7 216.3 184.0 216.7 184.2C217.1 184.4 218.0 184.8 218.5 184.9C219.0 185.0 221.7 181.2 222.0 184.9C222.3 188.6 225.0 218.3 222.0 222.0C219.0 225.7 195.2 223.0 192.2 222.0C189.2 221.0 192.1 213.6 192.2 211.7Z" fill="#7799EE"/>
<path d="M192.8 211.7C192.9 209.9 193.8 205.8 194.1 204.4C194.4 203.0 195.4 198.5 195.7 197.4C196.0 196.3 197.1 194.1 197.5 193.7C197.9 193.3 199.2 193.3 199.7 193.7C200.1 194.1 201.6 196.5 202.0 197.4C202.4 198.3 203.7 202.3 204.1 203.1C204.5 203.9 205.4 205.1 205.8 205.0C206.2 204.9 207.4 202.7 207.9 201.9C208.4 201.1 210.0 197.7 210.4 196.8C210.8 195.9 210.9 193.7 211.7 193.0C212.5 192.3 217.5 190.3 218.5 190.0C219.5 189.7 221.7 186.8 222.0 190.0C222.3 193.2 224.9 218.8 222.0 222.0C219.1 225.2 195.7 223.0 192.8 222.0C189.9 221.0 192.7 213.5 192.8 211.7Z" fill="#3E66E4"/>
<path d="M193.5 211.7C193.6 210.0 194.4 206.2 194.7 205.0C195.0 203.8 195.8 200.2 196.2 199.3C196.5 198.4 197.8 196.4 198.2 196.2C198.6 196.0 199.6 196.8 200.0 197.4C200.4 198.0 201.6 200.9 202.0 201.9C202.4 202.9 203.7 206.8 204.1 207.5C204.5 208.2 205.5 209.5 205.8 209.4C206.1 209.3 207.1 207.2 207.5 206.3C207.9 205.4 209.4 201.6 209.8 200.6C210.2 199.6 210.8 197.0 211.7 196.2C212.6 195.4 217.5 193.3 218.5 193.0C219.5 192.7 221.7 190.1 222.0 193.0C222.3 195.9 224.8 219.1 222.0 222.0C219.2 224.9 196.3 223.0 193.5 222.0C190.7 221.0 193.4 213.4 193.5 211.7Z" fill="#0000CD"/>
<path d="M194.1 211.7C194.2 210.1 195.0 207.3 195.3 206.3C195.6 205.3 196.7 202.6 197.0 201.9C197.3 201.2 198.2 199.4 198.5 199.3C198.8 199.2 200.0 200.5 200.4 201.2C200.8 201.9 201.9 205.3 202.3 206.3C202.7 207.3 203.8 210.7 204.1 211.3C204.4 211.9 205.5 212.1 205.8 211.9C206.1 211.7 207.0 210.2 207.3 209.4C207.6 208.7 208.8 205.3 209.2 204.4C209.6 203.5 210.8 200.7 211.7 200.0C212.6 199.3 217.5 197.3 218.5 197.0C219.5 196.7 221.7 194.5 222.0 197.0C222.3 199.5 224.8 219.5 222.0 222.0C219.2 224.5 196.9 223.0 194.1 222.0C191.3 221.0 194.0 213.3 194.1 211.7Z" fill="#9370DB"/>
<path d="M166.4 211.9L211.7 211.9L211.7 185.5L220.0 185.5L220.0 221.0L166.4 221.0Z" fill="#fff"/>
</g>
<path d="M221.46 418.4v-3.9M221.46 637.0999999999999v3.9M233.88 418.4v-3.9M233.88 637.0999999999999v3.9M258.71 418.4v-3.9M258.71 637.0999999999999v3.9M271.13 418.4v-3.9M271.13 637.0999999999999v3.9M295.97 418.4v-3.9M295.97 637.0999999999999v3.9M308.38 418.4v-3.9M308.38 637.0999999999999v3.9M333.22 418.4v-3.9M333.22 637.0999999999999v3.9M345.63 418.4v-3.9M345.63 637.0999999999999v3.9M370.47 418.4v-3.9M370.47 637.0999999999999v3.9M382.89 418.4v-3.9M382.89 637.0999999999999v3.9M407.72 418.4v-3.9M407.72 637.0999999999999v3.9M420.14 418.4v-3.9M420.14 637.0999999999999v3.9" stroke="#333" stroke-width="0.9" fill="none"/>
<path d="M246.30 418.4v-6.4M246.30 637.0999999999999v6.4M283.55 418.4v-6.4M283.55 637.0999999999999v6.4M320.80 418.4v-6.4M320.80 637.0999999999999v6.4M358.05 418.4v-6.4M358.05 637.0999999999999v6.4M395.30 418.4v-6.4M395.30 637.0999999999999v6.4M211.7 418.40h-6.4M211.7 456.91h-6.4M211.7 484.24h-6.4M211.7 505.43h-6.4M211.7 522.75h-6.4M211.7 550.07h-6.4M211.7 571.26h-6.4M211.7 603.22h-6.4M211.7 621.66h-6.4M211.7 637.10h-6.4M429.9 421.85h6.4M429.9 481.35h6.4M429.9 538.75h6.4M429.9 591.35h6.4" stroke="#000" stroke-width="1.25" fill="none"/>
<rect x="211.7" y="418.4" width="218.2" height="218.7" fill="none" stroke="#000" stroke-width="1.7"/>
<rect x="520" y="624.03" width="32" height="10.97" fill="#9370DB" stroke="#111" stroke-width="0.8"/>
<rect x="520" y="613.06" width="32" height="10.97" fill="#0000CD" stroke="#111" stroke-width="0.8"/>
<rect x="520" y="602.09" width="32" height="10.97" fill="#3E66E4" stroke="#111" stroke-width="0.8"/>
<rect x="520" y="591.12" width="32" height="10.97" fill="#7799EE" stroke="#111" stroke-width="0.8"/>
<rect x="520" y="580.16" width="32" height="10.97" fill="#B0E0E6" stroke="#111" stroke-width="0.8"/>
<rect x="520" y="569.19" width="32" height="10.97" fill="#20B2AA" stroke="#111" stroke-width="0.8"/>
<rect x="520" y="558.22" width="32" height="10.97" fill="#BFEF5F" stroke="#111" stroke-width="0.8"/>
<rect x="520" y="547.25" width="32" height="10.97" fill="#94BC30" stroke="#111" stroke-width="0.8"/>
<rect x="520" y="536.28" width="32" height="10.97" fill="#F5E6BE" stroke="#111" stroke-width="0.8"/>
<rect x="520" y="525.31" width="32" height="10.97" fill="#DEB887" stroke="#111" stroke-width="0.8"/>
<rect x="520" y="514.34" width="32" height="10.97" fill="#FFE100" stroke="#111" stroke-width="0.8"/>
<rect x="520" y="503.38" width="32" height="10.97" fill="#FFA500" stroke="#111" stroke-width="0.8"/>
<rect x="520" y="492.41" width="32" height="10.97" fill="#FF4500" stroke="#111" stroke-width="0.8"/>
<rect x="520" y="481.44" width="32" height="10.97" fill="#B22222" stroke="#111" stroke-width="0.8"/>
<rect x="520" y="470.47" width="32" height="10.97" fill="#FFB6C1" stroke="#111" stroke-width="0.8"/>
<rect x="520" y="459.50" width="32" height="10.97" fill="#FF1493" stroke="#111" stroke-width="0.8"/>
<g style="filter:grayscale(1)"><text x="315.5" y="13.6" font-size="19.8" font-family='"Liberation Serif", serif' text-anchor="middle" fill="#333" textLength="41.5" lengthAdjust="spacingAndGlyphs" >ANN</text><text x="41.9" y="73.05" font-size="9.2" font-family='"Liberation Sans", sans-serif' text-anchor="end" fill="#000" textLength="15.9" lengthAdjust="spacingAndGlyphs" >100</text><text x="41.9" y="111.50833097776078" font-size="9.2" font-family='"Liberation Sans", sans-serif' text-anchor="end" fill="#000" textLength="15.9" lengthAdjust="spacingAndGlyphs" >150</text><text x="41.9" y="138.7949510530135" font-size="9.2" font-family='"Liberation Sans", sans-serif' text-anchor="end" fill="#000" textLength="15.9" lengthAdjust="spacingAndGlyphs" >200</text><text x="41.9" y="159.96009789397303" font-size="9.2" font-family='"Liberation Sans", sans-serif' text-anchor="end" fill="#000" textLength="15.9" lengthAdjust="spacingAndGlyphs" >250</text><text x="41.9" y="177.2532820307743" font-size="9.2" font-family='"Liberation Sans", sans-serif' text-anchor="end" fill="#000" textLength="15.9" lengthAdjust="spacingAndGlyphs" >300</text><text x="41.9" y="204.539902106027" font-size="9.2" font-family='"Liberation Sans", sans-serif' text-anchor="end" fill="#000" textLength="15.9" lengthAdjust="spacingAndGlyphs" >400</text><text x="41.9" y="225.70504894698652" font-size="9.2" font-family='"Liberation Sans", sans-serif' text-anchor="end" fill="#000" textLength="15.9" lengthAdjust="spacingAndGlyphs" >500</text><text x="41.9" y="257.6194119391137" font-size="9.2" font-family='"Liberation Sans", sans-serif' text-anchor="end" fill="#000" textLength="15.9" lengthAdjust="spacingAndGlyphs" >700</text><text x="41.9" y="276.03509337600156" font-size="9.2" font-family='"Liberation Sans", sans-serif' text-anchor="end" fill="#000" textLength="15.9" lengthAdjust="spacingAndGlyphs" >850</text><text x="41.9" y="291.45" font-size="9.2" font-family='"Liberation Sans", sans-serif' text-anchor="end" fill="#000" textLength="21.2" lengthAdjust="spacingAndGlyphs" >1000</text><text x="282.2" y="76.5" font-size="9.2" font-family='"Liberation Sans", sans-serif' text-anchor="start" fill="#000" textLength="10.0" lengthAdjust="spacingAndGlyphs" >16</text><text x="282.2" y="136.0" font-size="9.2" font-family='"Liberation Sans", sans-serif' text-anchor="start" fill="#000" textLength="10.0" lengthAdjust="spacingAndGlyphs" >12</text><text x="282.2" y="193.4" font-size="9.2" font-family='"Liberation Sans", sans-serif' text-anchor="start" fill="#000" textLength="5.0" lengthAdjust="spacingAndGlyphs" >8</text><text x="282.2" y="246.0" font-size="9.2" font-family='"Liberation Sans", sans-serif' text-anchor="start" fill="#000" textLength="5.0" lengthAdjust="spacingAndGlyphs" >4</text><text x="87.59510585021624" y="306.34999999999997" font-size="9.6" font-family='"Liberation Sans", sans-serif' text-anchor="middle" fill="#000" textLength="16.8" lengthAdjust="spacingAndGlyphs" >60N</text><text x="124.84755292510812" y="306.34999999999997" font-size="9.6" font-family='"Liberation Sans", sans-serif' text-anchor="middle" fill="#000" textLength="16.8" lengthAdjust="spacingAndGlyphs" >30N</text><text x="162.1" y="306.34999999999997" font-size="9.6" font-family='"Liberation Sans", sans-serif' text-anchor="middle" fill="#000" textLength="5.6" lengthAdjust="spacingAndGlyphs" >0</text><text x="199.35244707489187" y="306.34999999999997" font-size="9.6" font-family='"Liberation Sans", sans-serif' text-anchor="middle" fill="#000" textLength="16.8" lengthAdjust="spacingAndGlyphs" >30S</text><text x="236.60489414978375" y="306.34999999999997" font-size="9.6" font-family='"Liberation Sans", sans-serif' text-anchor="middle" fill="#000" textLength="16.8" lengthAdjust="spacingAndGlyphs" >60S</text><text x="163" y="40" font-size="13.8" font-family='"Liberation Serif", serif' text-anchor="middle" fill="#222" textLength="185.6" lengthAdjust="spacingAndGlyphs" >b01.01ibis (yrs 475−499)</text><text x="52.5" y="60" font-size="12.5" font-family='"Liberation Serif", serif' text-anchor="start" fill="#222" textLength="175" lengthAdjust="spacingAndGlyphs" >Vertical pressure velocity</text><text x="271" y="60" font-size="12.5" font-family='"Liberation Serif", serif' text-anchor="end" fill="#222" textLength="50" lengthAdjust="spacingAndGlyphs" >mb/day</text><text x="12.4" y="232.0" font-size="14.4" font-family='"Liberation Serif", serif' text-anchor="start" fill="#222" textLength="64.4" lengthAdjust="spacingAndGlyphs" transform="rotate(-90 12.4 232.0)" >Pressure</text><text x="12.4" y="159.29999999999998" font-size="14.4" font-family='"Liberation Serif", serif' text-anchor="start" fill="#222" textLength="33.8" lengthAdjust="spacingAndGlyphs" transform="rotate(-90 12.4 159.29999999999998)" >(mb)</text><text x="309" y="222.1" font-size="14.4" font-family='"Liberation Serif", serif' text-anchor="start" fill="#222" textLength="44.2" lengthAdjust="spacingAndGlyphs" transform="rotate(-90 309 222.1)" >Height</text><text x="309" y="168.1" font-size="14.4" font-family='"Liberation Serif", serif' text-anchor="start" fill="#222" textLength="32.9" lengthAdjust="spacingAndGlyphs" transform="rotate(-90 309 168.1)" >(km)</text><text x="77.2" y="317.7" font-size="12" font-family='"Liberation Serif", serif' text-anchor="start" fill="#222" textLength="19.2" lengthAdjust="spacingAndGlyphs" >MIN</text><text x="103.6" y="317.7" font-size="12" font-family='"Liberation Serif", serif' text-anchor="start" fill="#222" textLength="7.3" lengthAdjust="spacingAndGlyphs" >=</text><text x="117.9" y="317.7" font-size="12" font-family='"Liberation Serif", serif' text-anchor="start" fill="#222" textLength="38.1" lengthAdjust="spacingAndGlyphs" >−22.41</text><text x="169.3" y="317.7" font-size="12" font-family='"Liberation Serif", serif' text-anchor="start" fill="#222" textLength="21.7" lengthAdjust="spacingAndGlyphs" >MAX</text><text x="197.6" y="317.7" font-size="12" font-family='"Liberation Serif", serif' text-anchor="start" fill="#222" textLength="7.2" lengthAdjust="spacingAndGlyphs" >=</text><text x="217.1" y="317.7" font-size="12" font-family='"Liberation Serif", serif' text-anchor="start" fill="#222" textLength="30.7" lengthAdjust="spacingAndGlyphs" >47.29</text><text x="69.25" y="360.5" font-size="9.8" font-family='"Liberation Sans", sans-serif' text-anchor="middle" fill="#000" textLength="19.4" lengthAdjust="spacingAndGlyphs" >−20</text><text x="95.75" y="360.5" font-size="9.8" font-family='"Liberation Sans", sans-serif' text-anchor="middle" fill="#000" textLength="13.8" lengthAdjust="spacingAndGlyphs" >−5</text><text x="122.25" y="360.5" font-size="9.8" font-family='"Liberation Sans", sans-serif' text-anchor="middle" fill="#000" textLength="5.7" lengthAdjust="spacingAndGlyphs" >5</text><text x="148.75" y="360.5" font-size="9.8" font-family='"Liberation Sans", sans-serif' text-anchor="middle" fill="#000" textLength="11.3" lengthAdjust="spacingAndGlyphs" >20</text><text x="175.25" y="360.5" font-size="9.8" font-family='"Liberation Sans", sans-serif' text-anchor="middle" fill="#000" textLength="11.3" lengthAdjust="spacingAndGlyphs" >40</text><text x="201.75" y="360.5" font-size="9.8" font-family='"Liberation Sans", sans-serif' text-anchor="middle" fill="#000" textLength="11.3" lengthAdjust="spacingAndGlyphs" >60</text><text x="228.25" y="360.5" font-size="9.8" font-family='"Liberation Sans", sans-serif' text-anchor="middle" fill="#000" textLength="17.0" lengthAdjust="spacingAndGlyphs" >100</text><text x="254.75" y="360.5" font-size="9.8" font-family='"Liberation Sans", sans-serif' text-anchor="middle" fill="#000" textLength="17.0" lengthAdjust="spacingAndGlyphs" >150</text><text x="359.09999999999997" y="73.05" font-size="9.2" font-family='"Liberation Sans", sans-serif' text-anchor="end" fill="#000" textLength="15.9" lengthAdjust="spacingAndGlyphs" >100</text><text x="359.09999999999997" y="111.50833097776078" font-size="9.2" font-family='"Liberation Sans", sans-serif' text-anchor="end" fill="#000" textLength="15.9" lengthAdjust="spacingAndGlyphs" >150</text><text x="359.09999999999997" y="138.7949510530135" font-size="9.2" font-family='"Liberation Sans", sans-serif' text-anchor="end" fill="#000" textLength="15.9" lengthAdjust="spacingAndGlyphs" >200</text><text x="359.09999999999997" y="159.96009789397303" font-size="9.2" font-family='"Liberation Sans", sans-serif' text-anchor="end" fill="#000" textLength="15.9" lengthAdjust="spacingAndGlyphs" >250</text><text x="359.09999999999997" y="177.2532820307743" font-size="9.2" font-family='"Liberation Sans", sans-serif' text-anchor="end" fill="#000" textLength="15.9" lengthAdjust="spacingAndGlyphs" >300</text><text x="359.09999999999997" y="204.539902106027" font-size="9.2" font-family='"Liberation Sans", sans-serif' text-anchor="end" fill="#000" textLength="15.9" lengthAdjust="spacingAndGlyphs" >400</text><text x="359.09999999999997" y="225.70504894698652" font-size="9.2" font-family='"Liberation Sans", sans-serif' text-anchor="end" fill="#000" textLength="15.9" lengthAdjust="spacingAndGlyphs" >500</text><text x="359.09999999999997" y="257.6194119391137" font-size="9.2" font-family='"Liberation Sans", sans-serif' text-anchor="end" fill="#000" textLength="15.9" lengthAdjust="spacingAndGlyphs" >700</text><text x="359.09999999999997" y="276.03509337600156" font-size="9.2" font-family='"Liberation Sans", sans-serif' text-anchor="end" fill="#000" textLength="15.9" lengthAdjust="spacingAndGlyphs" >850</text><text x="359.09999999999997" y="291.45" font-size="9.2" font-family='"Liberation Sans", sans-serif' text-anchor="end" fill="#000" textLength="21.2" lengthAdjust="spacingAndGlyphs" >1000</text><text x="599.4" y="76.5" font-size="9.2" font-family='"Liberation Sans", sans-serif' text-anchor="start" fill="#000" textLength="10.0" lengthAdjust="spacingAndGlyphs" >16</text><text x="599.4" y="136.0" font-size="9.2" font-family='"Liberation Sans", sans-serif' text-anchor="start" fill="#000" textLength="10.0" lengthAdjust="spacingAndGlyphs" >12</text><text x="599.4" y="193.4" font-size="9.2" font-family='"Liberation Sans", sans-serif' text-anchor="start" fill="#000" textLength="5.0" lengthAdjust="spacingAndGlyphs" >8</text><text x="599.4" y="246.0" font-size="9.2" font-family='"Liberation Sans", sans-serif' text-anchor="start" fill="#000" textLength="5.0" lengthAdjust="spacingAndGlyphs" >4</text><text x="404.7951058502162" y="306.34999999999997" font-size="9.6" font-family='"Liberation Sans", sans-serif' text-anchor="middle" fill="#000" textLength="16.8" lengthAdjust="spacingAndGlyphs" >60N</text><text x="442.0475529251081" y="306.34999999999997" font-size="9.6" font-family='"Liberation Sans", sans-serif' text-anchor="middle" fill="#000" textLength="16.8" lengthAdjust="spacingAndGlyphs" >30N</text><text x="479.29999999999995" y="306.34999999999997" font-size="9.6" font-family='"Liberation Sans", sans-serif' text-anchor="middle" fill="#000" textLength="5.6" lengthAdjust="spacingAndGlyphs" >0</text><text x="516.5524470748918" y="306.34999999999997" font-size="9.6" font-family='"Liberation Sans", sans-serif' text-anchor="middle" fill="#000" textLength="16.8" lengthAdjust="spacingAndGlyphs" >30S</text><text x="553.8048941497836" y="306.34999999999997" font-size="9.6" font-family='"Liberation Sans", sans-serif' text-anchor="middle" fill="#000" textLength="16.8" lengthAdjust="spacingAndGlyphs" >60S</text><text x="479.3" y="40.4" font-size="13.8" font-family='"Liberation Serif", serif' text-anchor="middle" fill="#222" textLength="37" lengthAdjust="spacingAndGlyphs" >NCEP</text><text x="369.5" y="60" font-size="12.5" font-family='"Liberation Serif", serif' text-anchor="start" fill="#222" textLength="175" lengthAdjust="spacingAndGlyphs" >vertical pressure velocity</text><text x="589" y="60" font-size="12.5" font-family='"Liberation Serif", serif' text-anchor="end" fill="#222" textLength="50" lengthAdjust="spacingAndGlyphs" >mb/day</text><text x="329.4" y="232.0" font-size="14.4" font-family='"Liberation Serif", serif' text-anchor="start" fill="#222" textLength="64.4" lengthAdjust="spacingAndGlyphs" transform="rotate(-90 329.4 232.0)" >Pressure</text><text x="329.4" y="159.29999999999998" font-size="14.4" font-family='"Liberation Serif", serif' text-anchor="start" fill="#222" textLength="33.8" lengthAdjust="spacingAndGlyphs" transform="rotate(-90 329.4 159.29999999999998)" >(mb)</text><text x="626" y="222.1" font-size="14.4" font-family='"Liberation Serif", serif' text-anchor="start" fill="#222" textLength="44.2" lengthAdjust="spacingAndGlyphs" transform="rotate(-90 626 222.1)" >Height</text><text x="626" y="168.1" font-size="14.4" font-family='"Liberation Serif", serif' text-anchor="start" fill="#222" textLength="32.9" lengthAdjust="spacingAndGlyphs" transform="rotate(-90 626 168.1)" >(km)</text><text x="393.8" y="317.7" font-size="12" font-family='"Liberation Serif", serif' text-anchor="start" fill="#222" textLength="19.1" lengthAdjust="spacingAndGlyphs" >MIN</text><text x="419.8" y="317.7" font-size="12" font-family='"Liberation Serif", serif' text-anchor="start" fill="#222" textLength="6.9" lengthAdjust="spacingAndGlyphs" >=</text><text x="434.7" y="317.7" font-size="12" font-family='"Liberation Serif", serif' text-anchor="start" fill="#222" textLength="38.7" lengthAdjust="spacingAndGlyphs" >−20.17</text><text x="485.5" y="317.7" font-size="12" font-family='"Liberation Serif", serif' text-anchor="start" fill="#222" textLength="20.8" lengthAdjust="spacingAndGlyphs" >MAX</text><text x="513.2" y="317.7" font-size="12" font-family='"Liberation Serif", serif' text-anchor="start" fill="#222" textLength="6.9" lengthAdjust="spacingAndGlyphs" >=</text><text x="528.7" y="317.7" font-size="12" font-family='"Liberation Serif", serif' text-anchor="start" fill="#222" textLength="37.0" lengthAdjust="spacingAndGlyphs" >135.10</text><text x="386.48" y="360.5" font-size="9.8" font-family='"Liberation Sans", sans-serif' text-anchor="middle" fill="#000" textLength="19.4" lengthAdjust="spacingAndGlyphs" >−20</text><text x="413.04" y="360.5" font-size="9.8" font-family='"Liberation Sans", sans-serif' text-anchor="middle" fill="#000" textLength="13.8" lengthAdjust="spacingAndGlyphs" >−5</text><text x="439.61" y="360.5" font-size="9.8" font-family='"Liberation Sans", sans-serif' text-anchor="middle" fill="#000" textLength="5.7" lengthAdjust="spacingAndGlyphs" >5</text><text x="466.17" y="360.5" font-size="9.8" font-family='"Liberation Sans", sans-serif' text-anchor="middle" fill="#000" textLength="11.3" lengthAdjust="spacingAndGlyphs" >20</text><text x="492.73" y="360.5" font-size="9.8" font-family='"Liberation Sans", sans-serif' text-anchor="middle" fill="#000" textLength="11.3" lengthAdjust="spacingAndGlyphs" >40</text><text x="519.29" y="360.5" font-size="9.8" font-family='"Liberation Sans", sans-serif' text-anchor="middle" fill="#000" textLength="11.3" lengthAdjust="spacingAndGlyphs" >60</text><text x="545.86" y="360.5" font-size="9.8" font-family='"Liberation Sans", sans-serif' text-anchor="middle" fill="#000" textLength="17.0" lengthAdjust="spacingAndGlyphs" >100</text><text x="572.42" y="360.5" font-size="9.8" font-family='"Liberation Sans", sans-serif' text-anchor="middle" fill="#000" textLength="17.0" lengthAdjust="spacingAndGlyphs" >150</text><text x="200.6" y="421.7" font-size="9.2" font-family='"Liberation Sans", sans-serif' text-anchor="end" fill="#000" textLength="15.9" lengthAdjust="spacingAndGlyphs" >100</text><text x="200.6" y="460.2111583554775" font-size="9.2" font-family='"Liberation Sans", sans-serif' text-anchor="end" fill="#000" textLength="15.9" lengthAdjust="spacingAndGlyphs" >150</text><text x="200.6" y="487.53526005171267" font-size="9.2" font-family='"Liberation Sans", sans-serif' text-anchor="end" fill="#000" textLength="15.9" lengthAdjust="spacingAndGlyphs" >200</text><text x="200.6" y="508.7294798965746" font-size="9.2" font-family='"Liberation Sans", sans-serif' text-anchor="end" fill="#000" textLength="15.9" lengthAdjust="spacingAndGlyphs" >250</text><text x="200.6" y="526.0464184071901" font-size="9.2" font-family='"Liberation Sans", sans-serif' text-anchor="end" fill="#000" textLength="15.9" lengthAdjust="spacingAndGlyphs" >300</text><text x="200.6" y="553.3705201034253" font-size="9.2" font-family='"Liberation Sans", sans-serif' text-anchor="end" fill="#000" textLength="15.9" lengthAdjust="spacingAndGlyphs" >400</text><text x="200.6" y="574.5647399482873" font-size="9.2" font-family='"Liberation Sans", sans-serif' text-anchor="end" fill="#000" textLength="15.9" lengthAdjust="spacingAndGlyphs" >500</text><text x="200.6" y="606.5229413511179" font-size="9.2" font-family='"Liberation Sans", sans-serif' text-anchor="end" fill="#000" textLength="15.9" lengthAdjust="spacingAndGlyphs" >700</text><text x="200.6" y="624.9639190537157" font-size="9.2" font-family='"Liberation Sans", sans-serif' text-anchor="end" fill="#000" textLength="15.9" lengthAdjust="spacingAndGlyphs" >850</text><text x="200.6" y="640.3999999999999" font-size="9.2" font-family='"Liberation Sans", sans-serif' text-anchor="end" fill="#000" textLength="21.2" lengthAdjust="spacingAndGlyphs" >1000</text><text x="440.9" y="425.15" font-size="9.2" font-family='"Liberation Sans", sans-serif' text-anchor="start" fill="#000" textLength="10.0" lengthAdjust="spacingAndGlyphs" >16</text><text x="440.9" y="484.65" font-size="9.2" font-family='"Liberation Sans", sans-serif' text-anchor="start" fill="#000" textLength="10.0" lengthAdjust="spacingAndGlyphs" >12</text><text x="440.9" y="542.05" font-size="9.2" font-family='"Liberation Sans", sans-serif' text-anchor="start" fill="#000" textLength="5.0" lengthAdjust="spacingAndGlyphs" >8</text><text x="440.9" y="594.6499999999999" font-size="9.2" font-family='"Liberation Sans", sans-serif' text-anchor="start" fill="#000" textLength="5.0" lengthAdjust="spacingAndGlyphs" >4</text><text x="246.2951058502162" y="655.3" font-size="9.6" font-family='"Liberation Sans", sans-serif' text-anchor="middle" fill="#000" textLength="16.8" lengthAdjust="spacingAndGlyphs" >60N</text><text x="283.5475529251081" y="655.3" font-size="9.6" font-family='"Liberation Sans", sans-serif' text-anchor="middle" fill="#000" textLength="16.8" lengthAdjust="spacingAndGlyphs" >30N</text><text x="320.79999999999995" y="655.3" font-size="9.6" font-family='"Liberation Sans", sans-serif' text-anchor="middle" fill="#000" textLength="5.6" lengthAdjust="spacingAndGlyphs" >0</text><text x="358.0524470748918" y="655.3" font-size="9.6" font-family='"Liberation Sans", sans-serif' text-anchor="middle" fill="#000" textLength="16.8" lengthAdjust="spacingAndGlyphs" >30S</text><text x="395.3048941497837" y="655.3" font-size="9.6" font-family='"Liberation Sans", sans-serif' text-anchor="middle" fill="#000" textLength="16.8" lengthAdjust="spacingAndGlyphs" >60S</text><text x="320.4" y="390" font-size="13.8" font-family='"Liberation Serif", serif' text-anchor="middle" fill="#222" textLength="135" lengthAdjust="spacingAndGlyphs" >b01.01ibis − NCEP</text><text x="211.3" y="408.5" font-size="12.5" font-family='"Liberation Serif", serif' text-anchor="start" fill="#222" textLength="176" lengthAdjust="spacingAndGlyphs" >Vertical pressure velocity</text><text x="430" y="408.5" font-size="12.5" font-family='"Liberation Serif", serif' text-anchor="end" fill="#222" textLength="50" lengthAdjust="spacingAndGlyphs" >mb/day</text><text x="170.5" y="580.6999999999999" font-size="14.4" font-family='"Liberation Serif", serif' text-anchor="start" fill="#222" textLength="64.4" lengthAdjust="spacingAndGlyphs" transform="rotate(-90 170.5 580.6999999999999)" >Pressure</text><text x="170.5" y="508.0" font-size="14.4" font-family='"Liberation Serif", serif' text-anchor="start" fill="#222" textLength="33.8" lengthAdjust="spacingAndGlyphs" transform="rotate(-90 170.5 508.0)" >(mb)</text><text x="467" y="570.8" font-size="14.4" font-family='"Liberation Serif", serif' text-anchor="start" fill="#222" textLength="44.2" lengthAdjust="spacingAndGlyphs" transform="rotate(-90 467 570.8)" >Height</text><text x="467" y="516.8" font-size="14.4" font-family='"Liberation Serif", serif' text-anchor="start" fill="#222" textLength="32.9" lengthAdjust="spacingAndGlyphs" transform="rotate(-90 467 516.8)" >(km)</text><text x="458.8" y="441.1" font-size="11.2" font-family='"Liberation Serif", serif' text-anchor="start" fill="#222" textLength="19.0" lengthAdjust="spacingAndGlyphs" >MIN</text><text x="485.1" y="441.1" font-size="11.2" font-family='"Liberation Serif", serif' text-anchor="start" fill="#222" textLength="7.3" lengthAdjust="spacingAndGlyphs" >=</text><text x="499.7" y="441.1" font-size="11.2" font-family='"Liberation Serif", serif' text-anchor="start" fill="#222" textLength="45.3" lengthAdjust="spacingAndGlyphs" >−107.02</text><text x="557.6" y="441.1" font-size="11.2" font-family='"Liberation Serif", serif' text-anchor="start" fill="#222" textLength="21.1" lengthAdjust="spacingAndGlyphs" >MAX</text><text x="586" y="441.1" font-size="11.2" font-family='"Liberation Serif", serif' text-anchor="start" fill="#222" textLength="7.3" lengthAdjust="spacingAndGlyphs" >=</text><text x="606.5" y="441.1" font-size="11.2" font-family='"Liberation Serif", serif' text-anchor="start" fill="#222" textLength="30.0" lengthAdjust="spacingAndGlyphs" >10.52</text><text x="555" y="627.83" font-size="10.5" font-family='"Liberation Sans", sans-serif' text-anchor="start" fill="#000" textLength="17.9" lengthAdjust="spacingAndGlyphs" >−60</text><text x="555" y="616.86" font-size="10.5" font-family='"Liberation Sans", sans-serif' text-anchor="start" fill="#000" textLength="17.9" lengthAdjust="spacingAndGlyphs" >−50</text><text x="555" y="605.89" font-size="10.5" font-family='"Liberation Sans", sans-serif' text-anchor="start" fill="#000" textLength="17.9" lengthAdjust="spacingAndGlyphs" >−40</text><text x="555" y="594.92" font-size="10.5" font-family='"Liberation Sans", sans-serif' text-anchor="start" fill="#000" textLength="17.9" lengthAdjust="spacingAndGlyphs" >−30</text><text x="555" y="583.96" font-size="10.5" font-family='"Liberation Sans", sans-serif' text-anchor="start" fill="#000" textLength="17.9" lengthAdjust="spacingAndGlyphs" >−20</text><text x="555" y="572.99" font-size="10.5" font-family='"Liberation Sans", sans-serif' text-anchor="start" fill="#000" textLength="17.9" lengthAdjust="spacingAndGlyphs" >−10</text><text x="555" y="562.02" font-size="10.5" font-family='"Liberation Sans", sans-serif' text-anchor="start" fill="#000" textLength="11.9" lengthAdjust="spacingAndGlyphs" >−5</text><text x="558.7" y="551.05" font-size="10.5" font-family='"Liberation Sans", sans-serif' text-anchor="start" fill="#000" textLength="6.0" lengthAdjust="spacingAndGlyphs" >0</text><text x="558.7" y="540.08" font-size="10.5" font-family='"Liberation Sans", sans-serif' text-anchor="start" fill="#000" textLength="6.0" lengthAdjust="spacingAndGlyphs" >5</text><text x="558.7" y="529.11" font-size="10.5" font-family='"Liberation Sans", sans-serif' text-anchor="start" fill="#000" textLength="11.9" lengthAdjust="spacingAndGlyphs" >10</text><text x="558.7" y="518.14" font-size="10.5" font-family='"Liberation Sans", sans-serif' text-anchor="start" fill="#000" textLength="11.9" lengthAdjust="spacingAndGlyphs" >20</text><text x="558.7" y="507.18" font-size="10.5" font-family='"Liberation Sans", sans-serif' text-anchor="start" fill="#000" textLength="11.9" lengthAdjust="spacingAndGlyphs" >30</text><text x="558.7" y="496.21" font-size="10.5" font-family='"Liberation Sans", sans-serif' text-anchor="start" fill="#000" textLength="11.9" lengthAdjust="spacingAndGlyphs" >40</text><text x="558.7" y="485.24" font-size="10.5" font-family='"Liberation Sans", sans-serif' text-anchor="start" fill="#000" textLength="11.9" lengthAdjust="spacingAndGlyphs" >50</text><text x="558.7" y="474.27" font-size="10.5" font-family='"Liberation Sans", sans-serif' text-anchor="start" fill="#000" textLength="11.9" lengthAdjust="spacingAndGlyphs" >60</text></g>
</svg>
</body></html>
